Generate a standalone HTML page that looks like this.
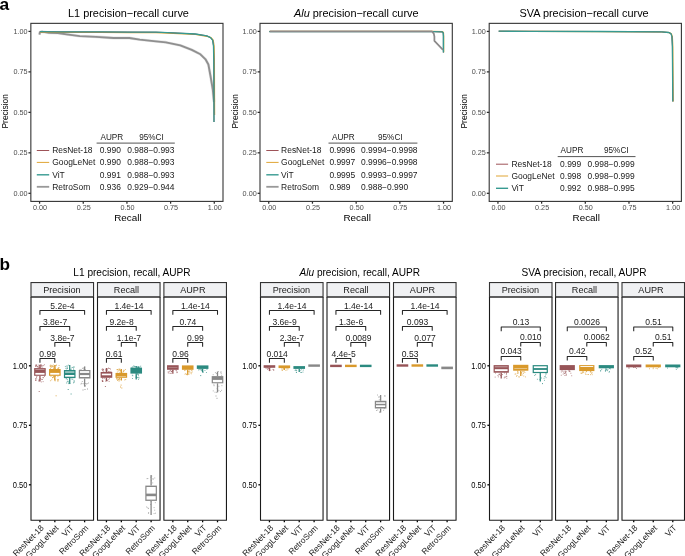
<!DOCTYPE html>
<html><head><meta charset="utf-8"><style>
html,body{margin:0;padding:0;background:#fff;overflow:hidden;width:685px;height:556px;}
svg{display:block;font-family:"Liberation Sans",sans-serif;will-change:transform;filter:blur(0.3px);}
</style></head><body>
<svg width="685" height="556" viewBox="0 0 685 556" font-family="Liberation Sans, sans-serif"><text x="-0.5" y="9.75" font-size="17.4" font-weight="bold" fill="#000">a</text>
<text x="128.45" y="16.70" font-size="10.92" text-anchor="middle" fill="#000" >L1 precision−recall curve</text>
<line x1="28.45" y1="193.31" x2="30.85" y2="193.31" stroke="#2a2a2a" stroke-width="1.25" />
<text x="0" y="0" font-size="7.25" text-anchor="end" fill="#4D4D4D" transform="translate(27.55,195.91) scale(1,1.1)">0.00</text>
<line x1="28.45" y1="152.84" x2="30.85" y2="152.84" stroke="#2a2a2a" stroke-width="1.25" />
<text x="0" y="0" font-size="7.25" text-anchor="end" fill="#4D4D4D" transform="translate(27.55,155.44) scale(1,1.1)">0.25</text>
<line x1="28.45" y1="112.36" x2="30.85" y2="112.36" stroke="#2a2a2a" stroke-width="1.25" />
<text x="0" y="0" font-size="7.25" text-anchor="end" fill="#4D4D4D" transform="translate(27.55,114.96) scale(1,1.1)">0.50</text>
<line x1="28.45" y1="71.88" x2="30.85" y2="71.88" stroke="#2a2a2a" stroke-width="1.25" />
<text x="0" y="0" font-size="7.25" text-anchor="end" fill="#4D4D4D" transform="translate(27.55,74.48) scale(1,1.1)">0.75</text>
<line x1="28.45" y1="31.41" x2="30.85" y2="31.41" stroke="#2a2a2a" stroke-width="1.25" />
<text x="0" y="0" font-size="7.25" text-anchor="end" fill="#4D4D4D" transform="translate(27.55,34.01) scale(1,1.1)">1.00</text>
<line x1="39.58" y1="201.40" x2="39.58" y2="203.70" stroke="#2a2a2a" stroke-width="1.25" />
<text x="0" y="0" font-size="7.25" text-anchor="middle" fill="#4D4D4D" transform="translate(40.08,210.10) scale(1,1.1)">0.00</text>
<line x1="83.25" y1="201.40" x2="83.25" y2="203.70" stroke="#2a2a2a" stroke-width="1.25" />
<text x="0" y="0" font-size="7.25" text-anchor="middle" fill="#4D4D4D" transform="translate(83.75,210.10) scale(1,1.1)">0.25</text>
<line x1="126.93" y1="201.40" x2="126.93" y2="203.70" stroke="#2a2a2a" stroke-width="1.25" />
<text x="0" y="0" font-size="7.25" text-anchor="middle" fill="#4D4D4D" transform="translate(127.43,210.10) scale(1,1.1)">0.50</text>
<line x1="170.60" y1="201.40" x2="170.60" y2="203.70" stroke="#2a2a2a" stroke-width="1.25" />
<text x="0" y="0" font-size="7.25" text-anchor="middle" fill="#4D4D4D" transform="translate(171.10,210.10) scale(1,1.1)">0.75</text>
<line x1="214.27" y1="201.40" x2="214.27" y2="203.70" stroke="#2a2a2a" stroke-width="1.25" />
<text x="0" y="0" font-size="7.25" text-anchor="middle" fill="#4D4D4D" transform="translate(214.77,210.10) scale(1,1.1)">1.00</text>
<text x="127.92" y="220.90" font-size="9.9" text-anchor="middle" fill="#000" >Recall</text>
<text x="0" y="0" font-size="9.9" text-anchor="middle" fill="#000" transform="translate(8.45,111.28) scale(1,0.845) rotate(-90)">Precision</text>
<text x="356.30" y="16.70" font-size="10.92" text-anchor="middle" fill="#000" ><tspan font-style="italic">Alu</tspan> precision−recall curve</text>
<line x1="257.60" y1="193.31" x2="260.00" y2="193.31" stroke="#2a2a2a" stroke-width="1.25" />
<text x="0" y="0" font-size="7.25" text-anchor="end" fill="#4D4D4D" transform="translate(256.70,195.91) scale(1,1.1)">0.00</text>
<line x1="257.60" y1="152.84" x2="260.00" y2="152.84" stroke="#2a2a2a" stroke-width="1.25" />
<text x="0" y="0" font-size="7.25" text-anchor="end" fill="#4D4D4D" transform="translate(256.70,155.44) scale(1,1.1)">0.25</text>
<line x1="257.60" y1="112.36" x2="260.00" y2="112.36" stroke="#2a2a2a" stroke-width="1.25" />
<text x="0" y="0" font-size="7.25" text-anchor="end" fill="#4D4D4D" transform="translate(256.70,114.96) scale(1,1.1)">0.50</text>
<line x1="257.60" y1="71.88" x2="260.00" y2="71.88" stroke="#2a2a2a" stroke-width="1.25" />
<text x="0" y="0" font-size="7.25" text-anchor="end" fill="#4D4D4D" transform="translate(256.70,74.48) scale(1,1.1)">0.75</text>
<line x1="257.60" y1="31.41" x2="260.00" y2="31.41" stroke="#2a2a2a" stroke-width="1.25" />
<text x="0" y="0" font-size="7.25" text-anchor="end" fill="#4D4D4D" transform="translate(256.70,34.01) scale(1,1.1)">1.00</text>
<line x1="268.74" y1="201.40" x2="268.74" y2="203.70" stroke="#2a2a2a" stroke-width="1.25" />
<text x="0" y="0" font-size="7.25" text-anchor="middle" fill="#4D4D4D" transform="translate(269.24,210.10) scale(1,1.1)">0.00</text>
<line x1="312.45" y1="201.40" x2="312.45" y2="203.70" stroke="#2a2a2a" stroke-width="1.25" />
<text x="0" y="0" font-size="7.25" text-anchor="middle" fill="#4D4D4D" transform="translate(312.95,210.10) scale(1,1.1)">0.25</text>
<line x1="356.15" y1="201.40" x2="356.15" y2="203.70" stroke="#2a2a2a" stroke-width="1.25" />
<text x="0" y="0" font-size="7.25" text-anchor="middle" fill="#4D4D4D" transform="translate(356.65,210.10) scale(1,1.1)">0.50</text>
<line x1="399.85" y1="201.40" x2="399.85" y2="203.70" stroke="#2a2a2a" stroke-width="1.25" />
<text x="0" y="0" font-size="7.25" text-anchor="middle" fill="#4D4D4D" transform="translate(400.35,210.10) scale(1,1.1)">0.75</text>
<line x1="443.56" y1="201.40" x2="443.56" y2="203.70" stroke="#2a2a2a" stroke-width="1.25" />
<text x="0" y="0" font-size="7.25" text-anchor="middle" fill="#4D4D4D" transform="translate(444.06,210.10) scale(1,1.1)">1.00</text>
<text x="357.15" y="220.90" font-size="9.9" text-anchor="middle" fill="#000" >Recall</text>
<text x="0" y="0" font-size="9.9" text-anchor="middle" fill="#000" transform="translate(237.60,111.28) scale(1,0.845) rotate(-90)">Precision</text>
<text x="584.05" y="16.70" font-size="10.92" text-anchor="middle" fill="#000" >SVA precision−recall curve</text>
<line x1="486.80" y1="193.31" x2="489.20" y2="193.31" stroke="#2a2a2a" stroke-width="1.25" />
<text x="0" y="0" font-size="7.25" text-anchor="end" fill="#4D4D4D" transform="translate(485.90,195.91) scale(1,1.1)">0.00</text>
<line x1="486.80" y1="152.84" x2="489.20" y2="152.84" stroke="#2a2a2a" stroke-width="1.25" />
<text x="0" y="0" font-size="7.25" text-anchor="end" fill="#4D4D4D" transform="translate(485.90,155.44) scale(1,1.1)">0.25</text>
<line x1="486.80" y1="112.36" x2="489.20" y2="112.36" stroke="#2a2a2a" stroke-width="1.25" />
<text x="0" y="0" font-size="7.25" text-anchor="end" fill="#4D4D4D" transform="translate(485.90,114.96) scale(1,1.1)">0.50</text>
<line x1="486.80" y1="71.88" x2="489.20" y2="71.88" stroke="#2a2a2a" stroke-width="1.25" />
<text x="0" y="0" font-size="7.25" text-anchor="end" fill="#4D4D4D" transform="translate(485.90,74.48) scale(1,1.1)">0.75</text>
<line x1="486.80" y1="31.41" x2="489.20" y2="31.41" stroke="#2a2a2a" stroke-width="1.25" />
<text x="0" y="0" font-size="7.25" text-anchor="end" fill="#4D4D4D" transform="translate(485.90,34.01) scale(1,1.1)">1.00</text>
<line x1="497.94" y1="201.40" x2="497.94" y2="203.70" stroke="#2a2a2a" stroke-width="1.25" />
<text x="0" y="0" font-size="7.25" text-anchor="middle" fill="#4D4D4D" transform="translate(498.44,210.10) scale(1,1.1)">0.00</text>
<line x1="541.62" y1="201.40" x2="541.62" y2="203.70" stroke="#2a2a2a" stroke-width="1.25" />
<text x="0" y="0" font-size="7.25" text-anchor="middle" fill="#4D4D4D" transform="translate(542.12,210.10) scale(1,1.1)">0.25</text>
<line x1="585.30" y1="201.40" x2="585.30" y2="203.70" stroke="#2a2a2a" stroke-width="1.25" />
<text x="0" y="0" font-size="7.25" text-anchor="middle" fill="#4D4D4D" transform="translate(585.80,210.10) scale(1,1.1)">0.50</text>
<line x1="628.98" y1="201.40" x2="628.98" y2="203.70" stroke="#2a2a2a" stroke-width="1.25" />
<text x="0" y="0" font-size="7.25" text-anchor="middle" fill="#4D4D4D" transform="translate(629.48,210.10) scale(1,1.1)">0.75</text>
<line x1="672.66" y1="201.40" x2="672.66" y2="203.70" stroke="#2a2a2a" stroke-width="1.25" />
<text x="0" y="0" font-size="7.25" text-anchor="middle" fill="#4D4D4D" transform="translate(673.16,210.10) scale(1,1.1)">1.00</text>
<text x="586.30" y="220.90" font-size="9.9" text-anchor="middle" fill="#000" >Recall</text>
<text x="0" y="0" font-size="9.9" text-anchor="middle" fill="#000" transform="translate(466.80,111.28) scale(1,0.845) rotate(-90)">Precision</text>
<path d="M39.50,34.60 L39.90,32.20 L42.10,31.70 L49.10,32.80 L57.90,33.00 L66.60,34.30 L79.80,36.10 L96.00,36.80 L113.50,38.00 L129.30,38.00 L139.80,39.60 L156.00,41.40 L165.90,42.30 L180.30,45.40 L191.80,49.90 L200.40,54.30 L205.50,59.30 L208.40,64.50 L210.50,76.00 L212.70,89.00 L214.00,102.00" fill="none" stroke="#E4E4E4" stroke-width="2.9" stroke-linejoin="round" stroke-linecap="butt" />
<path d="M39.50,34.60 L39.90,32.20 L42.10,31.70 L49.10,32.80 L57.90,33.00 L66.60,34.30 L79.80,36.10 L96.00,36.80 L113.50,38.00 L129.30,38.00 L139.80,39.60 L156.00,41.40 L165.90,42.30 L180.30,45.40 L191.80,49.90 L200.40,54.30 L205.50,59.30 L208.40,64.50 L210.50,76.00 L212.70,89.00 L214.00,102.00" fill="none" stroke="#8f8f8f" stroke-width="1.85" stroke-linejoin="round" stroke-linecap="butt" />
<path d="M40.00,32.20 L60.00,32.30 L100.00,32.45 L130.00,32.55 L156.00,32.70 L173.00,33.30 L195.40,34.50 L206.80,36.30 L211.10,37.60 L213.20,40.20 L214.10,45.80 L214.40,60.00 L214.60,115.00" fill="none" stroke="#E0A534" stroke-width="1.2" stroke-linejoin="round" stroke-linecap="butt" />
<path d="M40.00,31.70 L60.00,31.80 L100.00,31.95 L130.00,32.05 L156.00,32.20 L173.00,32.80 L195.40,34.00 L206.80,35.80 L210.50,37.60 L212.60,40.20 L213.50,45.80 L213.80,60.00 L214.00,122.00" fill="none" stroke="#9E5358" stroke-width="1.0" stroke-linejoin="round" stroke-linecap="butt" />
<path d="M40.00,31.70 L60.00,31.80 L100.00,31.95 L130.00,32.05 L156.00,32.20 L173.00,32.80 L195.40,34.00 L206.80,35.80 L210.50,37.60 L212.60,40.20 L213.50,45.80 L213.80,60.00 L214.00,122.00" fill="none" stroke="#379A91" stroke-width="1.35" stroke-linejoin="round" stroke-linecap="butt" />
<path d="M269.30,31.60 L432.10,31.60 L442.30,31.90 L443.20,33.00 L443.40,36.00 L443.40,52.60" fill="none" stroke="#E0A534" stroke-width="1.2" stroke-linejoin="round" stroke-linecap="butt" transform="translate(0.3,-0.3)"/>
<path d="M269.30,31.60 L432.10,31.60 L442.30,31.90 L443.20,33.00 L443.40,36.00 L443.40,52.60" fill="none" stroke="#9E5358" stroke-width="1.0" stroke-linejoin="round" stroke-linecap="butt" />
<path d="M269.30,31.60 L432.10,31.60 L442.30,31.90 L443.20,33.00 L443.40,36.00 L443.40,52.60" fill="none" stroke="#379A91" stroke-width="1.4" stroke-linejoin="round" stroke-linecap="butt" />
<path d="M269.80,31.45 L432.10,31.45 L433.80,33.60 L434.40,36.50 L434.40,40.80 L443.00,49.80" fill="none" stroke="#8c8a8a" stroke-width="1.75" stroke-linejoin="round" stroke-linecap="butt" />
<path d="M498.60,31.20 L530.00,31.30 L600.00,31.50 L661.60,31.90 L668.80,32.50 L670.90,33.60 L671.90,36.50 L672.40,46.60 L672.80,101.50" fill="none" stroke="#E0A534" stroke-width="1.2" stroke-linejoin="round" stroke-linecap="butt" transform="translate(0.45,0.1)"/>
<path d="M498.60,31.20 L530.00,31.30 L600.00,31.50 L661.60,31.90 L668.80,32.50 L670.90,33.60 L671.90,36.50 L672.40,46.60 L672.80,101.50" fill="none" stroke="#9E5358" stroke-width="1.0" stroke-linejoin="round" stroke-linecap="butt" />
<path d="M498.60,31.20 L530.00,31.30 L600.00,31.50 L661.60,31.90 L668.80,32.50 L670.90,33.60 L671.90,36.50 L672.40,46.60 L672.80,101.50" fill="none" stroke="#379A91" stroke-width="1.3" stroke-linejoin="round" stroke-linecap="butt" />
<rect x="30.85" y="23.35" width="192.15" height="178.05" fill="none" stroke="#333333" stroke-width="1.1" />
<rect x="260.00" y="23.35" width="192.30" height="178.05" fill="none" stroke="#333333" stroke-width="1.1" />
<rect x="489.20" y="23.35" width="192.20" height="178.05" fill="none" stroke="#333333" stroke-width="1.1" />
<text x="100.50" y="139.90" font-size="8.2" text-anchor="start" fill="#1a1a1a" >AUPR</text>
<text x="139.20" y="139.90" font-size="8.2" text-anchor="start" fill="#1a1a1a" >95%CI</text>
<line x1="96.60" y1="143.10" x2="174.80" y2="143.10" stroke="#555555" stroke-width="1.0" />
<line x1="36.80" y1="150.50" x2="49.20" y2="150.50" stroke="#9E5358" stroke-width="1.0" />
<text x="52.20" y="153.40" font-size="8.45" text-anchor="start" fill="#1a1a1a" >ResNet-18</text>
<text x="99.80" y="153.40" font-size="8.45" text-anchor="start" fill="#1a1a1a" >0.990</text>
<text x="127.30" y="153.40" font-size="8.45" text-anchor="start" fill="#1a1a1a" >0.988−0.993</text>
<line x1="36.80" y1="162.40" x2="49.20" y2="162.40" stroke="#E0A534" stroke-width="1.0" />
<text x="52.20" y="165.30" font-size="8.45" text-anchor="start" fill="#1a1a1a" >GoogLeNet</text>
<text x="99.80" y="165.30" font-size="8.45" text-anchor="start" fill="#1a1a1a" >0.990</text>
<text x="127.30" y="165.30" font-size="8.45" text-anchor="start" fill="#1a1a1a" >0.988−0.993</text>
<line x1="36.80" y1="174.80" x2="49.20" y2="174.80" stroke="#379A91" stroke-width="1.4" />
<text x="52.20" y="177.70" font-size="8.45" text-anchor="start" fill="#1a1a1a" >ViT</text>
<text x="99.80" y="177.70" font-size="8.45" text-anchor="start" fill="#1a1a1a" >0.991</text>
<text x="127.30" y="177.70" font-size="8.45" text-anchor="start" fill="#1a1a1a" >0.988−0.993</text>
<line x1="36.80" y1="186.80" x2="49.20" y2="186.80" stroke="#999999" stroke-width="1.8" />
<text x="52.20" y="189.70" font-size="8.45" text-anchor="start" fill="#1a1a1a" >RetroSom</text>
<text x="99.80" y="189.70" font-size="8.45" text-anchor="start" fill="#1a1a1a" >0.936</text>
<text x="127.30" y="189.70" font-size="8.45" text-anchor="start" fill="#1a1a1a" >0.929−0.944</text>
<text x="332.00" y="139.90" font-size="8.2" text-anchor="start" fill="#1a1a1a" >AUPR</text>
<text x="378.00" y="139.90" font-size="8.2" text-anchor="start" fill="#1a1a1a" >95%CI</text>
<line x1="328.50" y1="143.10" x2="417.40" y2="143.10" stroke="#555555" stroke-width="1.0" />
<line x1="266.30" y1="150.50" x2="278.60" y2="150.50" stroke="#9E5358" stroke-width="1.0" />
<text x="281.10" y="153.40" font-size="8.45" text-anchor="start" fill="#1a1a1a" >ResNet-18</text>
<text x="329.40" y="153.40" font-size="8.45" text-anchor="start" fill="#1a1a1a" >0.9996</text>
<text x="361.00" y="153.40" font-size="8.45" text-anchor="start" fill="#1a1a1a" >0.9994−0.9998</text>
<line x1="266.30" y1="162.40" x2="278.60" y2="162.40" stroke="#E0A534" stroke-width="1.0" />
<text x="281.10" y="165.30" font-size="8.45" text-anchor="start" fill="#1a1a1a" >GoogLeNet</text>
<text x="329.40" y="165.30" font-size="8.45" text-anchor="start" fill="#1a1a1a" >0.9997</text>
<text x="361.00" y="165.30" font-size="8.45" text-anchor="start" fill="#1a1a1a" >0.9996−0.9998</text>
<line x1="266.30" y1="174.80" x2="278.60" y2="174.80" stroke="#379A91" stroke-width="1.4" />
<text x="281.10" y="177.70" font-size="8.45" text-anchor="start" fill="#1a1a1a" >ViT</text>
<text x="329.40" y="177.70" font-size="8.45" text-anchor="start" fill="#1a1a1a" >0.9995</text>
<text x="361.00" y="177.70" font-size="8.45" text-anchor="start" fill="#1a1a1a" >0.9993−0.9997</text>
<line x1="266.30" y1="186.80" x2="278.60" y2="186.80" stroke="#999999" stroke-width="1.8" />
<text x="281.10" y="189.70" font-size="8.45" text-anchor="start" fill="#1a1a1a" >RetroSom</text>
<text x="329.40" y="189.70" font-size="8.45" text-anchor="start" fill="#1a1a1a" >0.989</text>
<text x="361.00" y="189.70" font-size="8.45" text-anchor="start" fill="#1a1a1a" >0.988−0.990</text>
<text x="560.60" y="153.40" font-size="8.2" text-anchor="start" fill="#1a1a1a" >AUPR</text>
<text x="604.00" y="153.40" font-size="8.2" text-anchor="start" fill="#1a1a1a" >95%CI</text>
<line x1="557.70" y1="156.60" x2="635.50" y2="156.60" stroke="#555555" stroke-width="1.0" />
<line x1="496.00" y1="164.20" x2="508.10" y2="164.20" stroke="#9E5358" stroke-width="1.0" />
<text x="511.40" y="167.10" font-size="8.45" text-anchor="start" fill="#1a1a1a" >ResNet-18</text>
<text x="560.10" y="167.10" font-size="8.45" text-anchor="start" fill="#1a1a1a" >0.999</text>
<text x="587.50" y="167.10" font-size="8.45" text-anchor="start" fill="#1a1a1a" >0.998−0.999</text>
<line x1="496.00" y1="176.00" x2="508.10" y2="176.00" stroke="#E0A534" stroke-width="1.0" />
<text x="511.40" y="178.90" font-size="8.45" text-anchor="start" fill="#1a1a1a" >GoogLeNet</text>
<text x="560.10" y="178.90" font-size="8.45" text-anchor="start" fill="#1a1a1a" >0.998</text>
<text x="587.50" y="178.90" font-size="8.45" text-anchor="start" fill="#1a1a1a" >0.998−0.999</text>
<line x1="496.00" y1="188.30" x2="508.10" y2="188.30" stroke="#379A91" stroke-width="1.4" />
<text x="511.40" y="191.20" font-size="8.45" text-anchor="start" fill="#1a1a1a" >ViT</text>
<text x="560.10" y="191.20" font-size="8.45" text-anchor="start" fill="#1a1a1a" >0.992</text>
<text x="587.50" y="191.20" font-size="8.45" text-anchor="start" fill="#1a1a1a" >0.988−0.995</text>
<text x="-0.4" y="269.5" font-size="17.2" font-weight="bold" fill="#000">b</text>
<text x="132.00" y="275.70" font-size="10.1" text-anchor="middle" fill="#000" >L1 precision, recall, AUPR</text>
<line x1="28.90" y1="484.80" x2="31.00" y2="484.80" stroke="#000" stroke-width="1.3" />
<text x="0" y="0" font-size="7.5" text-anchor="end" fill="#000" transform="translate(27.40,487.60) scale(1,1.1)">0.50</text>
<line x1="28.90" y1="425.30" x2="31.00" y2="425.30" stroke="#000" stroke-width="1.3" />
<text x="0" y="0" font-size="7.5" text-anchor="end" fill="#000" transform="translate(27.40,428.10) scale(1,1.1)">0.75</text>
<line x1="28.90" y1="365.80" x2="31.00" y2="365.80" stroke="#000" stroke-width="1.3" />
<text x="0" y="0" font-size="7.5" text-anchor="end" fill="#000" transform="translate(27.40,368.60) scale(1,1.1)">1.00</text>
<rect x="31.00" y="282.55" width="62.55" height="14.45" fill="#F0F1F3" stroke="#333333" stroke-width="1.1" />
<text x="61.88" y="292.60" font-size="9.1" text-anchor="middle" fill="#1a1a1a" >Precision</text>
<line x1="39.94" y1="520.30" x2="39.94" y2="522.30" stroke="#000" stroke-width="1.3" />
<text x="0" y="0" font-size="8.35" text-anchor="end" fill="#1a1a1a" transform="translate(44.34,528.50) rotate(-45)">ResNet-18</text>
<line x1="54.83" y1="520.30" x2="54.83" y2="522.30" stroke="#000" stroke-width="1.3" />
<text x="0" y="0" font-size="8.35" text-anchor="end" fill="#1a1a1a" transform="translate(59.23,528.50) rotate(-45)">GoogLeNet</text>
<line x1="69.72" y1="520.30" x2="69.72" y2="522.30" stroke="#000" stroke-width="1.3" />
<text x="0" y="0" font-size="8.35" text-anchor="end" fill="#1a1a1a" transform="translate(74.12,528.50) rotate(-45)">ViT</text>
<line x1="84.61" y1="520.30" x2="84.61" y2="522.30" stroke="#000" stroke-width="1.3" />
<text x="0" y="0" font-size="8.35" text-anchor="end" fill="#1a1a1a" transform="translate(89.01,528.50) rotate(-45)">RetroSom</text>
<path d="M39.94,314.70 L39.94,310.50 L84.61,310.50 L84.61,314.70" fill="none" stroke="#262626" stroke-width="1.05" stroke-linejoin="round" stroke-linecap="butt" stroke-linejoin="miter"/>
<text x="62.48" y="308.50" font-size="8.55" text-anchor="middle" fill="#222222" >5.2e-4</text>
<path d="M39.94,330.70 L39.94,326.50 L69.72,326.50 L69.72,330.70" fill="none" stroke="#262626" stroke-width="1.05" stroke-linejoin="round" stroke-linecap="butt" stroke-linejoin="miter"/>
<text x="55.03" y="324.50" font-size="8.55" text-anchor="middle" fill="#222222" >3.8e-7</text>
<path d="M54.83,346.70 L54.83,342.50 L69.72,342.50 L69.72,346.70" fill="none" stroke="#262626" stroke-width="1.05" stroke-linejoin="round" stroke-linecap="butt" stroke-linejoin="miter"/>
<text x="62.47" y="340.50" font-size="8.55" text-anchor="middle" fill="#222222" >3.8e-7</text>
<path d="M39.94,362.70 L39.94,358.50 L54.83,358.50 L54.83,362.70" fill="none" stroke="#262626" stroke-width="1.05" stroke-linejoin="round" stroke-linecap="butt" stroke-linejoin="miter"/>
<text x="47.58" y="356.50" font-size="8.55" text-anchor="middle" fill="#222222" >0.99</text>
<line x1="39.94" y1="375.80" x2="39.94" y2="381.50" stroke="#975457" stroke-width="1.3" />
<line x1="39.94" y1="364.80" x2="39.94" y2="368.10" stroke="#975457" stroke-width="1.3" />
<rect x="37.85" y="364.68" width="0.90" height="0.90" fill="#975457" stroke="none" stroke-width="0" opacity="0.75"/>
<rect x="40.89" y="364.40" width="0.90" height="0.90" fill="#975457" stroke="none" stroke-width="0" opacity="0.75"/>
<rect x="39.82" y="365.43" width="0.90" height="0.90" fill="#975457" stroke="none" stroke-width="0" opacity="0.75"/>
<rect x="35.38" y="365.93" width="0.90" height="0.90" fill="#975457" stroke="none" stroke-width="0" opacity="0.75"/>
<rect x="35.19" y="365.67" width="0.90" height="0.90" fill="#975457" stroke="none" stroke-width="0" opacity="0.75"/>
<rect x="35.49" y="364.47" width="0.90" height="0.90" fill="#975457" stroke="none" stroke-width="0" opacity="0.75"/>
<rect x="38.78" y="367.04" width="0.90" height="0.90" fill="#975457" stroke="none" stroke-width="0" opacity="0.75"/>
<rect x="35.99" y="364.93" width="0.90" height="0.90" fill="#975457" stroke="none" stroke-width="0" opacity="0.75"/>
<rect x="40.67" y="367.47" width="0.90" height="0.90" fill="#975457" stroke="none" stroke-width="0" opacity="0.75"/>
<rect x="40.20" y="365.54" width="0.90" height="0.90" fill="#975457" stroke="none" stroke-width="0" opacity="0.75"/>
<rect x="43.91" y="364.31" width="0.90" height="0.90" fill="#975457" stroke="none" stroke-width="0" opacity="0.75"/>
<rect x="42.82" y="365.16" width="0.90" height="0.90" fill="#975457" stroke="none" stroke-width="0" opacity="0.75"/>
<rect x="36.18" y="364.56" width="0.90" height="0.90" fill="#975457" stroke="none" stroke-width="0" opacity="0.75"/>
<rect x="37.71" y="367.01" width="0.90" height="0.90" fill="#975457" stroke="none" stroke-width="0" opacity="0.75"/>
<rect x="36.52" y="366.19" width="0.90" height="0.90" fill="#975457" stroke="none" stroke-width="0" opacity="0.75"/>
<rect x="40.78" y="365.45" width="0.90" height="0.90" fill="#975457" stroke="none" stroke-width="0" opacity="0.75"/>
<rect x="39.93" y="364.37" width="0.90" height="0.90" fill="#975457" stroke="none" stroke-width="0" opacity="0.75"/>
<rect x="35.39" y="364.87" width="0.90" height="0.90" fill="#975457" stroke="none" stroke-width="0" opacity="0.75"/>
<rect x="41.16" y="365.65" width="0.90" height="0.90" fill="#975457" stroke="none" stroke-width="0" opacity="0.75"/>
<rect x="37.76" y="366.20" width="0.90" height="0.90" fill="#975457" stroke="none" stroke-width="0" opacity="0.75"/>
<rect x="39.05" y="365.20" width="0.90" height="0.90" fill="#975457" stroke="none" stroke-width="0" opacity="0.75"/>
<rect x="42.22" y="366.60" width="0.90" height="0.90" fill="#975457" stroke="none" stroke-width="0" opacity="0.75"/>
<rect x="37.11" y="366.16" width="0.90" height="0.90" fill="#975457" stroke="none" stroke-width="0" opacity="0.75"/>
<rect x="39.72" y="367.21" width="0.90" height="0.90" fill="#975457" stroke="none" stroke-width="0" opacity="0.75"/>
<rect x="41.62" y="365.16" width="0.90" height="0.90" fill="#975457" stroke="none" stroke-width="0" opacity="0.75"/>
<rect x="43.95" y="376.08" width="0.90" height="0.90" fill="#975457" stroke="none" stroke-width="0" opacity="0.75"/>
<rect x="38.72" y="380.04" width="0.90" height="0.90" fill="#975457" stroke="none" stroke-width="0" opacity="0.75"/>
<rect x="36.25" y="378.38" width="0.90" height="0.90" fill="#975457" stroke="none" stroke-width="0" opacity="0.75"/>
<rect x="35.20" y="379.49" width="0.90" height="0.90" fill="#975457" stroke="none" stroke-width="0" opacity="0.75"/>
<rect x="41.94" y="378.90" width="0.90" height="0.90" fill="#975457" stroke="none" stroke-width="0" opacity="0.75"/>
<rect x="42.98" y="377.30" width="0.90" height="0.90" fill="#975457" stroke="none" stroke-width="0" opacity="0.75"/>
<rect x="41.30" y="379.04" width="0.90" height="0.90" fill="#975457" stroke="none" stroke-width="0" opacity="0.75"/>
<rect x="40.23" y="378.18" width="0.90" height="0.90" fill="#975457" stroke="none" stroke-width="0" opacity="0.75"/>
<rect x="42.65" y="381.21" width="0.90" height="0.90" fill="#975457" stroke="none" stroke-width="0" opacity="0.75"/>
<rect x="39.25" y="379.47" width="0.90" height="0.90" fill="#975457" stroke="none" stroke-width="0" opacity="0.75"/>
<rect x="35.40" y="379.70" width="0.90" height="0.90" fill="#975457" stroke="none" stroke-width="0" opacity="0.75"/>
<rect x="40.85" y="381.51" width="0.90" height="0.90" fill="#975457" stroke="none" stroke-width="0" opacity="0.75"/>
<rect x="42.48" y="377.11" width="0.90" height="0.90" fill="#975457" stroke="none" stroke-width="0" opacity="0.75"/>
<rect x="38.42" y="379.50" width="0.90" height="0.90" fill="#975457" stroke="none" stroke-width="0" opacity="0.75"/>
<rect x="35.05" y="378.21" width="0.90" height="0.90" fill="#975457" stroke="none" stroke-width="0" opacity="0.75"/>
<rect x="36.40" y="376.08" width="0.90" height="0.90" fill="#975457" stroke="none" stroke-width="0" opacity="0.75"/>
<rect x="35.39" y="380.11" width="0.90" height="0.90" fill="#975457" stroke="none" stroke-width="0" opacity="0.75"/>
<rect x="36.04" y="376.89" width="0.90" height="0.90" fill="#975457" stroke="none" stroke-width="0" opacity="0.75"/>
<rect x="38.47" y="380.75" width="0.90" height="0.90" fill="#975457" stroke="none" stroke-width="0" opacity="0.75"/>
<rect x="38.70" y="391.00" width="1.00" height="1.00" fill="#975457" stroke="none" stroke-width="0" opacity="0.8"/>
<rect x="34.13" y="368.10" width="11.62" height="7.70" fill="#975457" stroke="none" stroke-width="1.0" />
<rect x="35.33" y="369.10" width="9.22" height="0.80" fill="#ffffff" stroke="none" stroke-width="0" opacity="0.45"/>
<rect x="35.33" y="372.90" width="9.22" height="1.80" fill="#ffffff" stroke="none" stroke-width="0" opacity="1"/>
<line x1="54.83" y1="375.80" x2="54.83" y2="380.50" stroke="#D9992B" stroke-width="1.3" />
<line x1="54.83" y1="365.00" x2="54.83" y2="369.00" stroke="#D9992B" stroke-width="1.3" />
<rect x="50.48" y="366.24" width="0.90" height="0.90" fill="#D9992B" stroke="none" stroke-width="0" opacity="0.75"/>
<rect x="54.84" y="368.06" width="0.90" height="0.90" fill="#D9992B" stroke="none" stroke-width="0" opacity="0.75"/>
<rect x="57.35" y="367.98" width="0.90" height="0.90" fill="#D9992B" stroke="none" stroke-width="0" opacity="0.75"/>
<rect x="52.32" y="366.09" width="0.90" height="0.90" fill="#D9992B" stroke="none" stroke-width="0" opacity="0.75"/>
<rect x="53.07" y="368.06" width="0.90" height="0.90" fill="#D9992B" stroke="none" stroke-width="0" opacity="0.75"/>
<rect x="58.63" y="364.98" width="0.90" height="0.90" fill="#D9992B" stroke="none" stroke-width="0" opacity="0.75"/>
<rect x="51.37" y="365.32" width="0.90" height="0.90" fill="#D9992B" stroke="none" stroke-width="0" opacity="0.75"/>
<rect x="51.90" y="366.39" width="0.90" height="0.90" fill="#D9992B" stroke="none" stroke-width="0" opacity="0.75"/>
<rect x="55.21" y="365.45" width="0.90" height="0.90" fill="#D9992B" stroke="none" stroke-width="0" opacity="0.75"/>
<rect x="49.77" y="366.11" width="0.90" height="0.90" fill="#D9992B" stroke="none" stroke-width="0" opacity="0.75"/>
<rect x="53.16" y="366.73" width="0.90" height="0.90" fill="#D9992B" stroke="none" stroke-width="0" opacity="0.75"/>
<rect x="58.59" y="367.25" width="0.90" height="0.90" fill="#D9992B" stroke="none" stroke-width="0" opacity="0.75"/>
<rect x="54.52" y="366.94" width="0.90" height="0.90" fill="#D9992B" stroke="none" stroke-width="0" opacity="0.75"/>
<rect x="56.02" y="364.58" width="0.90" height="0.90" fill="#D9992B" stroke="none" stroke-width="0" opacity="0.75"/>
<rect x="58.09" y="367.63" width="0.90" height="0.90" fill="#D9992B" stroke="none" stroke-width="0" opacity="0.75"/>
<rect x="57.86" y="367.70" width="0.90" height="0.90" fill="#D9992B" stroke="none" stroke-width="0" opacity="0.75"/>
<rect x="53.38" y="366.03" width="0.90" height="0.90" fill="#D9992B" stroke="none" stroke-width="0" opacity="0.75"/>
<rect x="50.69" y="367.01" width="0.90" height="0.90" fill="#D9992B" stroke="none" stroke-width="0" opacity="0.75"/>
<rect x="50.31" y="364.63" width="0.90" height="0.90" fill="#D9992B" stroke="none" stroke-width="0" opacity="0.75"/>
<rect x="51.67" y="365.03" width="0.90" height="0.90" fill="#D9992B" stroke="none" stroke-width="0" opacity="0.75"/>
<rect x="52.89" y="364.57" width="0.90" height="0.90" fill="#D9992B" stroke="none" stroke-width="0" opacity="0.75"/>
<rect x="49.73" y="364.99" width="0.90" height="0.90" fill="#D9992B" stroke="none" stroke-width="0" opacity="0.75"/>
<rect x="50.67" y="365.88" width="0.90" height="0.90" fill="#D9992B" stroke="none" stroke-width="0" opacity="0.75"/>
<rect x="49.97" y="368.02" width="0.90" height="0.90" fill="#D9992B" stroke="none" stroke-width="0" opacity="0.75"/>
<rect x="55.44" y="364.97" width="0.90" height="0.90" fill="#D9992B" stroke="none" stroke-width="0" opacity="0.75"/>
<rect x="52.08" y="377.16" width="0.90" height="0.90" fill="#D9992B" stroke="none" stroke-width="0" opacity="0.75"/>
<rect x="53.12" y="375.99" width="0.90" height="0.90" fill="#D9992B" stroke="none" stroke-width="0" opacity="0.75"/>
<rect x="57.62" y="380.51" width="0.90" height="0.90" fill="#D9992B" stroke="none" stroke-width="0" opacity="0.75"/>
<rect x="54.06" y="377.87" width="0.90" height="0.90" fill="#D9992B" stroke="none" stroke-width="0" opacity="0.75"/>
<rect x="50.53" y="375.88" width="0.90" height="0.90" fill="#D9992B" stroke="none" stroke-width="0" opacity="0.75"/>
<rect x="52.92" y="376.73" width="0.90" height="0.90" fill="#D9992B" stroke="none" stroke-width="0" opacity="0.75"/>
<rect x="57.43" y="376.19" width="0.90" height="0.90" fill="#D9992B" stroke="none" stroke-width="0" opacity="0.75"/>
<rect x="49.95" y="380.30" width="0.90" height="0.90" fill="#D9992B" stroke="none" stroke-width="0" opacity="0.75"/>
<rect x="54.64" y="376.11" width="0.90" height="0.90" fill="#D9992B" stroke="none" stroke-width="0" opacity="0.75"/>
<rect x="54.78" y="375.49" width="0.90" height="0.90" fill="#D9992B" stroke="none" stroke-width="0" opacity="0.75"/>
<rect x="54.64" y="380.44" width="0.90" height="0.90" fill="#D9992B" stroke="none" stroke-width="0" opacity="0.75"/>
<rect x="57.76" y="378.97" width="0.90" height="0.90" fill="#D9992B" stroke="none" stroke-width="0" opacity="0.75"/>
<rect x="52.16" y="377.26" width="0.90" height="0.90" fill="#D9992B" stroke="none" stroke-width="0" opacity="0.75"/>
<rect x="51.28" y="379.36" width="0.90" height="0.90" fill="#D9992B" stroke="none" stroke-width="0" opacity="0.75"/>
<rect x="54.68" y="379.40" width="0.90" height="0.90" fill="#D9992B" stroke="none" stroke-width="0" opacity="0.75"/>
<rect x="52.80" y="376.51" width="0.90" height="0.90" fill="#D9992B" stroke="none" stroke-width="0" opacity="0.75"/>
<rect x="57.27" y="380.47" width="0.90" height="0.90" fill="#D9992B" stroke="none" stroke-width="0" opacity="0.75"/>
<rect x="57.66" y="379.54" width="0.90" height="0.90" fill="#D9992B" stroke="none" stroke-width="0" opacity="0.75"/>
<rect x="57.34" y="379.20" width="0.90" height="0.90" fill="#D9992B" stroke="none" stroke-width="0" opacity="0.75"/>
<rect x="55.60" y="395.30" width="1.00" height="1.00" fill="#D9992B" stroke="none" stroke-width="0" opacity="0.8"/>
<rect x="49.02" y="369.00" width="11.62" height="6.80" fill="#D9992B" stroke="none" stroke-width="1.0" />
<rect x="50.22" y="372.90" width="9.22" height="1.80" fill="#ffffff" stroke="none" stroke-width="0" opacity="1"/>
<line x1="69.72" y1="378.10" x2="69.72" y2="383.70" stroke="#2B8A80" stroke-width="1.3" />
<line x1="69.72" y1="364.90" x2="69.72" y2="370.00" stroke="#2B8A80" stroke-width="1.3" />
<rect x="66.73" y="367.14" width="0.90" height="0.90" fill="#2B8A80" stroke="none" stroke-width="0" opacity="0.75"/>
<rect x="67.93" y="364.69" width="0.90" height="0.90" fill="#2B8A80" stroke="none" stroke-width="0" opacity="0.75"/>
<rect x="64.88" y="365.95" width="0.90" height="0.90" fill="#2B8A80" stroke="none" stroke-width="0" opacity="0.75"/>
<rect x="67.03" y="368.01" width="0.90" height="0.90" fill="#2B8A80" stroke="none" stroke-width="0" opacity="0.75"/>
<rect x="73.51" y="366.79" width="0.90" height="0.90" fill="#2B8A80" stroke="none" stroke-width="0" opacity="0.75"/>
<rect x="73.33" y="369.49" width="0.90" height="0.90" fill="#2B8A80" stroke="none" stroke-width="0" opacity="0.75"/>
<rect x="73.50" y="366.37" width="0.90" height="0.90" fill="#2B8A80" stroke="none" stroke-width="0" opacity="0.75"/>
<rect x="66.67" y="365.68" width="0.90" height="0.90" fill="#2B8A80" stroke="none" stroke-width="0" opacity="0.75"/>
<rect x="66.45" y="365.57" width="0.90" height="0.90" fill="#2B8A80" stroke="none" stroke-width="0" opacity="0.75"/>
<rect x="70.42" y="369.05" width="0.90" height="0.90" fill="#2B8A80" stroke="none" stroke-width="0" opacity="0.75"/>
<rect x="72.44" y="366.95" width="0.90" height="0.90" fill="#2B8A80" stroke="none" stroke-width="0" opacity="0.75"/>
<rect x="70.69" y="368.55" width="0.90" height="0.90" fill="#2B8A80" stroke="none" stroke-width="0" opacity="0.75"/>
<rect x="65.41" y="367.85" width="0.90" height="0.90" fill="#2B8A80" stroke="none" stroke-width="0" opacity="0.75"/>
<rect x="73.08" y="368.46" width="0.90" height="0.90" fill="#2B8A80" stroke="none" stroke-width="0" opacity="0.75"/>
<rect x="71.60" y="366.94" width="0.90" height="0.90" fill="#2B8A80" stroke="none" stroke-width="0" opacity="0.75"/>
<rect x="66.28" y="368.50" width="0.90" height="0.90" fill="#2B8A80" stroke="none" stroke-width="0" opacity="0.75"/>
<rect x="67.71" y="382.35" width="0.90" height="0.90" fill="#2B8A80" stroke="none" stroke-width="0" opacity="0.75"/>
<rect x="73.65" y="379.93" width="0.90" height="0.90" fill="#2B8A80" stroke="none" stroke-width="0" opacity="0.75"/>
<rect x="68.36" y="383.23" width="0.90" height="0.90" fill="#2B8A80" stroke="none" stroke-width="0" opacity="0.75"/>
<rect x="71.36" y="378.57" width="0.90" height="0.90" fill="#2B8A80" stroke="none" stroke-width="0" opacity="0.75"/>
<rect x="65.81" y="378.46" width="0.90" height="0.90" fill="#2B8A80" stroke="none" stroke-width="0" opacity="0.75"/>
<rect x="73.03" y="382.39" width="0.90" height="0.90" fill="#2B8A80" stroke="none" stroke-width="0" opacity="0.75"/>
<rect x="65.98" y="382.51" width="0.90" height="0.90" fill="#2B8A80" stroke="none" stroke-width="0" opacity="0.75"/>
<rect x="73.73" y="381.49" width="0.90" height="0.90" fill="#2B8A80" stroke="none" stroke-width="0" opacity="0.75"/>
<rect x="67.88" y="380.84" width="0.90" height="0.90" fill="#2B8A80" stroke="none" stroke-width="0" opacity="0.75"/>
<rect x="65.84" y="377.64" width="0.90" height="0.90" fill="#2B8A80" stroke="none" stroke-width="0" opacity="0.75"/>
<rect x="73.65" y="381.45" width="0.90" height="0.90" fill="#2B8A80" stroke="none" stroke-width="0" opacity="0.75"/>
<rect x="69.52" y="383.15" width="0.90" height="0.90" fill="#2B8A80" stroke="none" stroke-width="0" opacity="0.75"/>
<rect x="68.66" y="382.78" width="0.90" height="0.90" fill="#2B8A80" stroke="none" stroke-width="0" opacity="0.75"/>
<rect x="72.30" y="378.82" width="0.90" height="0.90" fill="#2B8A80" stroke="none" stroke-width="0" opacity="0.75"/>
<rect x="66.97" y="379.31" width="0.90" height="0.90" fill="#2B8A80" stroke="none" stroke-width="0" opacity="0.75"/>
<rect x="66.86" y="381.07" width="0.90" height="0.90" fill="#2B8A80" stroke="none" stroke-width="0" opacity="0.75"/>
<rect x="67.70" y="389.00" width="1.00" height="1.00" fill="#2B8A80" stroke="none" stroke-width="0" opacity="0.8"/>
<rect x="70.60" y="393.50" width="1.00" height="1.00" fill="#2B8A80" stroke="none" stroke-width="0" opacity="0.8"/>
<rect x="63.91" y="370.00" width="11.62" height="8.10" fill="#2B8A80" stroke="none" stroke-width="1.0" />
<rect x="65.11" y="371.30" width="9.22" height="1.50" fill="#ffffff" stroke="none" stroke-width="0" opacity="0.6"/>
<rect x="65.11" y="375.00" width="9.22" height="1.70" fill="#ffffff" stroke="none" stroke-width="0" opacity="1"/>
<line x1="84.61" y1="378.50" x2="84.61" y2="386.60" stroke="#888888" stroke-width="1.3" />
<line x1="84.61" y1="366.50" x2="84.61" y2="370.00" stroke="#888888" stroke-width="1.3" />
<rect x="81.93" y="367.81" width="0.90" height="0.90" fill="#888888" stroke="none" stroke-width="0" opacity="0.75"/>
<rect x="80.74" y="369.28" width="0.90" height="0.90" fill="#888888" stroke="none" stroke-width="0" opacity="0.75"/>
<rect x="82.81" y="367.92" width="0.90" height="0.90" fill="#888888" stroke="none" stroke-width="0" opacity="0.75"/>
<rect x="84.94" y="369.26" width="0.90" height="0.90" fill="#888888" stroke="none" stroke-width="0" opacity="0.75"/>
<rect x="83.43" y="369.30" width="0.90" height="0.90" fill="#888888" stroke="none" stroke-width="0" opacity="0.75"/>
<rect x="84.18" y="368.15" width="0.90" height="0.90" fill="#888888" stroke="none" stroke-width="0" opacity="0.75"/>
<rect x="84.38" y="366.61" width="0.90" height="0.90" fill="#888888" stroke="none" stroke-width="0" opacity="0.75"/>
<rect x="83.61" y="367.10" width="0.90" height="0.90" fill="#888888" stroke="none" stroke-width="0" opacity="0.75"/>
<rect x="79.55" y="368.95" width="0.90" height="0.90" fill="#888888" stroke="none" stroke-width="0" opacity="0.75"/>
<rect x="81.12" y="382.81" width="0.90" height="0.90" fill="#888888" stroke="none" stroke-width="0" opacity="0.75"/>
<rect x="86.26" y="383.56" width="0.90" height="0.90" fill="#888888" stroke="none" stroke-width="0" opacity="0.75"/>
<rect x="82.55" y="383.22" width="0.90" height="0.90" fill="#888888" stroke="none" stroke-width="0" opacity="0.75"/>
<rect x="84.68" y="385.61" width="0.90" height="0.90" fill="#888888" stroke="none" stroke-width="0" opacity="0.75"/>
<rect x="80.50" y="383.59" width="0.90" height="0.90" fill="#888888" stroke="none" stroke-width="0" opacity="0.75"/>
<rect x="81.83" y="381.04" width="0.90" height="0.90" fill="#888888" stroke="none" stroke-width="0" opacity="0.75"/>
<rect x="86.69" y="383.12" width="0.90" height="0.90" fill="#888888" stroke="none" stroke-width="0" opacity="0.75"/>
<rect x="84.74" y="385.39" width="0.90" height="0.90" fill="#888888" stroke="none" stroke-width="0" opacity="0.75"/>
<rect x="88.00" y="382.54" width="0.90" height="0.90" fill="#888888" stroke="none" stroke-width="0" opacity="0.75"/>
<rect x="85.21" y="383.10" width="0.90" height="0.90" fill="#888888" stroke="none" stroke-width="0" opacity="0.75"/>
<rect x="84.28" y="384.78" width="0.90" height="0.90" fill="#888888" stroke="none" stroke-width="0" opacity="0.75"/>
<rect x="83.72" y="383.35" width="0.90" height="0.90" fill="#888888" stroke="none" stroke-width="0" opacity="0.75"/>
<rect x="82.50" y="389.50" width="1.00" height="1.00" fill="#888888" stroke="none" stroke-width="0" opacity="0.8"/>
<rect x="84.50" y="389.00" width="1.00" height="1.00" fill="#888888" stroke="none" stroke-width="0" opacity="0.8"/>
<rect x="87.00" y="388.50" width="1.00" height="1.00" fill="#888888" stroke="none" stroke-width="0" opacity="0.8"/>
<rect x="78.81" y="370.00" width="11.62" height="8.50" fill="#888888" stroke="none" stroke-width="1.0" />
<rect x="80.01" y="371.10" width="9.22" height="1.80" fill="#ffffff" stroke="none" stroke-width="0" opacity="1"/>
<rect x="80.01" y="375.10" width="9.22" height="1.90" fill="#ffffff" stroke="none" stroke-width="0" opacity="1"/>
<path d="M31.00,297.00 L31.00,520.30 L93.55,520.30 L93.55,297.00" fill="none" stroke="#1a1a1a" stroke-width="1.1" stroke-linejoin="round" stroke-linecap="butt" stroke-linejoin="miter"/>
<line x1="31.00" y1="297.00" x2="93.55" y2="297.00" stroke="#333333" stroke-width="1.1" />
<rect x="97.50" y="282.55" width="62.55" height="14.45" fill="#F0F1F3" stroke="#333333" stroke-width="1.1" />
<text x="126.48" y="292.60" font-size="9.1" text-anchor="middle" fill="#1a1a1a" >Recall</text>
<line x1="106.44" y1="520.30" x2="106.44" y2="522.30" stroke="#000" stroke-width="1.3" />
<text x="0" y="0" font-size="8.35" text-anchor="end" fill="#1a1a1a" transform="translate(110.84,528.50) rotate(-45)">ResNet-18</text>
<line x1="121.33" y1="520.30" x2="121.33" y2="522.30" stroke="#000" stroke-width="1.3" />
<text x="0" y="0" font-size="8.35" text-anchor="end" fill="#1a1a1a" transform="translate(125.73,528.50) rotate(-45)">GoogLeNet</text>
<line x1="136.22" y1="520.30" x2="136.22" y2="522.30" stroke="#000" stroke-width="1.3" />
<text x="0" y="0" font-size="8.35" text-anchor="end" fill="#1a1a1a" transform="translate(140.62,528.50) rotate(-45)">ViT</text>
<line x1="151.11" y1="520.30" x2="151.11" y2="522.30" stroke="#000" stroke-width="1.3" />
<text x="0" y="0" font-size="8.35" text-anchor="end" fill="#1a1a1a" transform="translate(155.51,528.50) rotate(-45)">RetroSom</text>
<path d="M106.44,314.70 L106.44,310.50 L151.11,310.50 L151.11,314.70" fill="none" stroke="#262626" stroke-width="1.05" stroke-linejoin="round" stroke-linecap="butt" stroke-linejoin="miter"/>
<text x="128.97" y="308.50" font-size="8.55" text-anchor="middle" fill="#222222" >1.4e-14</text>
<path d="M106.44,330.70 L106.44,326.50 L136.22,326.50 L136.22,330.70" fill="none" stroke="#262626" stroke-width="1.05" stroke-linejoin="round" stroke-linecap="butt" stroke-linejoin="miter"/>
<text x="121.53" y="324.50" font-size="8.55" text-anchor="middle" fill="#222222" >9.2e-8</text>
<path d="M121.33,346.70 L121.33,342.50 L136.22,342.50 L136.22,346.70" fill="none" stroke="#262626" stroke-width="1.05" stroke-linejoin="round" stroke-linecap="butt" stroke-linejoin="miter"/>
<text x="128.97" y="340.50" font-size="8.55" text-anchor="middle" fill="#222222" >1.1e-7</text>
<path d="M106.44,362.70 L106.44,358.50 L121.33,358.50 L121.33,362.70" fill="none" stroke="#262626" stroke-width="1.05" stroke-linejoin="round" stroke-linecap="butt" stroke-linejoin="miter"/>
<text x="114.08" y="356.50" font-size="8.55" text-anchor="middle" fill="#222222" >0.61</text>
<line x1="106.44" y1="377.80" x2="106.44" y2="381.30" stroke="#975457" stroke-width="1.3" />
<line x1="106.44" y1="368.00" x2="106.44" y2="372.00" stroke="#975457" stroke-width="1.3" />
<rect x="105.78" y="371.32" width="0.90" height="0.90" fill="#975457" stroke="none" stroke-width="0" opacity="0.75"/>
<rect x="107.84" y="371.06" width="0.90" height="0.90" fill="#975457" stroke="none" stroke-width="0" opacity="0.75"/>
<rect x="110.09" y="368.59" width="0.90" height="0.90" fill="#975457" stroke="none" stroke-width="0" opacity="0.75"/>
<rect x="106.54" y="371.32" width="0.90" height="0.90" fill="#975457" stroke="none" stroke-width="0" opacity="0.75"/>
<rect x="109.15" y="368.10" width="0.90" height="0.90" fill="#975457" stroke="none" stroke-width="0" opacity="0.75"/>
<rect x="102.47" y="369.32" width="0.90" height="0.90" fill="#975457" stroke="none" stroke-width="0" opacity="0.75"/>
<rect x="102.01" y="368.51" width="0.90" height="0.90" fill="#975457" stroke="none" stroke-width="0" opacity="0.75"/>
<rect x="102.02" y="370.23" width="0.90" height="0.90" fill="#975457" stroke="none" stroke-width="0" opacity="0.75"/>
<rect x="108.62" y="371.14" width="0.90" height="0.90" fill="#975457" stroke="none" stroke-width="0" opacity="0.75"/>
<rect x="102.77" y="370.41" width="0.90" height="0.90" fill="#975457" stroke="none" stroke-width="0" opacity="0.75"/>
<rect x="107.48" y="368.12" width="0.90" height="0.90" fill="#975457" stroke="none" stroke-width="0" opacity="0.75"/>
<rect x="109.54" y="371.42" width="0.90" height="0.90" fill="#975457" stroke="none" stroke-width="0" opacity="0.75"/>
<rect x="103.38" y="371.36" width="0.90" height="0.90" fill="#975457" stroke="none" stroke-width="0" opacity="0.75"/>
<rect x="105.04" y="369.50" width="0.90" height="0.90" fill="#975457" stroke="none" stroke-width="0" opacity="0.75"/>
<rect x="110.54" y="370.88" width="0.90" height="0.90" fill="#975457" stroke="none" stroke-width="0" opacity="0.75"/>
<rect x="102.84" y="369.28" width="0.90" height="0.90" fill="#975457" stroke="none" stroke-width="0" opacity="0.75"/>
<rect x="106.13" y="368.91" width="0.90" height="0.90" fill="#975457" stroke="none" stroke-width="0" opacity="0.75"/>
<rect x="103.16" y="368.82" width="0.90" height="0.90" fill="#975457" stroke="none" stroke-width="0" opacity="0.75"/>
<rect x="108.05" y="367.63" width="0.90" height="0.90" fill="#975457" stroke="none" stroke-width="0" opacity="0.75"/>
<rect x="106.49" y="369.31" width="0.90" height="0.90" fill="#975457" stroke="none" stroke-width="0" opacity="0.75"/>
<rect x="101.51" y="368.88" width="0.90" height="0.90" fill="#975457" stroke="none" stroke-width="0" opacity="0.75"/>
<rect x="107.14" y="369.60" width="0.90" height="0.90" fill="#975457" stroke="none" stroke-width="0" opacity="0.75"/>
<rect x="101.94" y="380.99" width="0.90" height="0.90" fill="#975457" stroke="none" stroke-width="0" opacity="0.75"/>
<rect x="108.67" y="380.95" width="0.90" height="0.90" fill="#975457" stroke="none" stroke-width="0" opacity="0.75"/>
<rect x="102.31" y="378.33" width="0.90" height="0.90" fill="#975457" stroke="none" stroke-width="0" opacity="0.75"/>
<rect x="101.71" y="380.23" width="0.90" height="0.90" fill="#975457" stroke="none" stroke-width="0" opacity="0.75"/>
<rect x="103.85" y="377.83" width="0.90" height="0.90" fill="#975457" stroke="none" stroke-width="0" opacity="0.75"/>
<rect x="105.26" y="380.72" width="0.90" height="0.90" fill="#975457" stroke="none" stroke-width="0" opacity="0.75"/>
<rect x="108.95" y="378.31" width="0.90" height="0.90" fill="#975457" stroke="none" stroke-width="0" opacity="0.75"/>
<rect x="102.73" y="380.75" width="0.90" height="0.90" fill="#975457" stroke="none" stroke-width="0" opacity="0.75"/>
<rect x="106.64" y="379.94" width="0.90" height="0.90" fill="#975457" stroke="none" stroke-width="0" opacity="0.75"/>
<rect x="102.17" y="377.56" width="0.90" height="0.90" fill="#975457" stroke="none" stroke-width="0" opacity="0.75"/>
<rect x="107.73" y="378.92" width="0.90" height="0.90" fill="#975457" stroke="none" stroke-width="0" opacity="0.75"/>
<rect x="102.01" y="380.82" width="0.90" height="0.90" fill="#975457" stroke="none" stroke-width="0" opacity="0.75"/>
<rect x="107.24" y="380.32" width="0.90" height="0.90" fill="#975457" stroke="none" stroke-width="0" opacity="0.75"/>
<rect x="102.12" y="380.52" width="0.90" height="0.90" fill="#975457" stroke="none" stroke-width="0" opacity="0.75"/>
<rect x="101.96" y="380.54" width="0.90" height="0.90" fill="#975457" stroke="none" stroke-width="0" opacity="0.75"/>
<rect x="105.56" y="378.60" width="0.90" height="0.90" fill="#975457" stroke="none" stroke-width="0" opacity="0.75"/>
<rect x="104.90" y="386.00" width="1.00" height="1.00" fill="#975457" stroke="none" stroke-width="0" opacity="0.8"/>
<rect x="100.63" y="372.00" width="11.62" height="5.80" fill="#975457" stroke="none" stroke-width="1.0" />
<rect x="101.83" y="373.60" width="9.22" height="1.70" fill="#ffffff" stroke="none" stroke-width="0" opacity="1"/>
<line x1="121.33" y1="377.80" x2="121.33" y2="380.60" stroke="#D9992B" stroke-width="1.3" />
<line x1="121.33" y1="369.00" x2="121.33" y2="372.90" stroke="#D9992B" stroke-width="1.3" />
<rect x="121.37" y="372.26" width="0.90" height="0.90" fill="#D9992B" stroke="none" stroke-width="0" opacity="0.75"/>
<rect x="118.72" y="369.07" width="0.90" height="0.90" fill="#D9992B" stroke="none" stroke-width="0" opacity="0.75"/>
<rect x="121.13" y="369.50" width="0.90" height="0.90" fill="#D9992B" stroke="none" stroke-width="0" opacity="0.75"/>
<rect x="117.25" y="369.20" width="0.90" height="0.90" fill="#D9992B" stroke="none" stroke-width="0" opacity="0.75"/>
<rect x="116.70" y="369.36" width="0.90" height="0.90" fill="#D9992B" stroke="none" stroke-width="0" opacity="0.75"/>
<rect x="119.13" y="369.77" width="0.90" height="0.90" fill="#D9992B" stroke="none" stroke-width="0" opacity="0.75"/>
<rect x="123.29" y="369.71" width="0.90" height="0.90" fill="#D9992B" stroke="none" stroke-width="0" opacity="0.75"/>
<rect x="120.88" y="369.26" width="0.90" height="0.90" fill="#D9992B" stroke="none" stroke-width="0" opacity="0.75"/>
<rect x="119.46" y="368.62" width="0.90" height="0.90" fill="#D9992B" stroke="none" stroke-width="0" opacity="0.75"/>
<rect x="118.56" y="368.61" width="0.90" height="0.90" fill="#D9992B" stroke="none" stroke-width="0" opacity="0.75"/>
<rect x="123.04" y="370.75" width="0.90" height="0.90" fill="#D9992B" stroke="none" stroke-width="0" opacity="0.75"/>
<rect x="117.99" y="370.45" width="0.90" height="0.90" fill="#D9992B" stroke="none" stroke-width="0" opacity="0.75"/>
<rect x="124.92" y="368.98" width="0.90" height="0.90" fill="#D9992B" stroke="none" stroke-width="0" opacity="0.75"/>
<rect x="123.84" y="370.28" width="0.90" height="0.90" fill="#D9992B" stroke="none" stroke-width="0" opacity="0.75"/>
<rect x="120.83" y="371.89" width="0.90" height="0.90" fill="#D9992B" stroke="none" stroke-width="0" opacity="0.75"/>
<rect x="119.89" y="370.58" width="0.90" height="0.90" fill="#D9992B" stroke="none" stroke-width="0" opacity="0.75"/>
<rect x="122.62" y="372.48" width="0.90" height="0.90" fill="#D9992B" stroke="none" stroke-width="0" opacity="0.75"/>
<rect x="119.42" y="371.88" width="0.90" height="0.90" fill="#D9992B" stroke="none" stroke-width="0" opacity="0.75"/>
<rect x="122.80" y="371.09" width="0.90" height="0.90" fill="#D9992B" stroke="none" stroke-width="0" opacity="0.75"/>
<rect x="119.99" y="369.94" width="0.90" height="0.90" fill="#D9992B" stroke="none" stroke-width="0" opacity="0.75"/>
<rect x="116.74" y="369.07" width="0.90" height="0.90" fill="#D9992B" stroke="none" stroke-width="0" opacity="0.75"/>
<rect x="116.89" y="371.51" width="0.90" height="0.90" fill="#D9992B" stroke="none" stroke-width="0" opacity="0.75"/>
<rect x="118.61" y="377.87" width="0.90" height="0.90" fill="#D9992B" stroke="none" stroke-width="0" opacity="0.75"/>
<rect x="117.02" y="380.04" width="0.90" height="0.90" fill="#D9992B" stroke="none" stroke-width="0" opacity="0.75"/>
<rect x="124.32" y="379.50" width="0.90" height="0.90" fill="#D9992B" stroke="none" stroke-width="0" opacity="0.75"/>
<rect x="118.85" y="378.13" width="0.90" height="0.90" fill="#D9992B" stroke="none" stroke-width="0" opacity="0.75"/>
<rect x="118.96" y="378.82" width="0.90" height="0.90" fill="#D9992B" stroke="none" stroke-width="0" opacity="0.75"/>
<rect x="117.70" y="378.78" width="0.90" height="0.90" fill="#D9992B" stroke="none" stroke-width="0" opacity="0.75"/>
<rect x="118.68" y="380.43" width="0.90" height="0.90" fill="#D9992B" stroke="none" stroke-width="0" opacity="0.75"/>
<rect x="125.27" y="379.10" width="0.90" height="0.90" fill="#D9992B" stroke="none" stroke-width="0" opacity="0.75"/>
<rect x="118.50" y="380.44" width="0.90" height="0.90" fill="#D9992B" stroke="none" stroke-width="0" opacity="0.75"/>
<rect x="119.11" y="378.49" width="0.90" height="0.90" fill="#D9992B" stroke="none" stroke-width="0" opacity="0.75"/>
<rect x="116.24" y="378.57" width="0.90" height="0.90" fill="#D9992B" stroke="none" stroke-width="0" opacity="0.75"/>
<rect x="120.64" y="378.96" width="0.90" height="0.90" fill="#D9992B" stroke="none" stroke-width="0" opacity="0.75"/>
<rect x="118.10" y="378.97" width="0.90" height="0.90" fill="#D9992B" stroke="none" stroke-width="0" opacity="0.75"/>
<rect x="116.28" y="378.20" width="0.90" height="0.90" fill="#D9992B" stroke="none" stroke-width="0" opacity="0.75"/>
<rect x="117.07" y="378.63" width="0.90" height="0.90" fill="#D9992B" stroke="none" stroke-width="0" opacity="0.75"/>
<rect x="116.62" y="377.42" width="0.90" height="0.90" fill="#D9992B" stroke="none" stroke-width="0" opacity="0.75"/>
<rect x="120.60" y="384.60" width="1.00" height="1.00" fill="#D9992B" stroke="none" stroke-width="0" opacity="0.8"/>
<rect x="121.30" y="387.50" width="1.00" height="1.00" fill="#D9992B" stroke="none" stroke-width="0" opacity="0.8"/>
<rect x="120.00" y="386.50" width="1.00" height="1.00" fill="#D9992B" stroke="none" stroke-width="0" opacity="0.8"/>
<rect x="115.52" y="372.90" width="11.62" height="4.90" fill="#D9992B" stroke="none" stroke-width="1.0" />
<rect x="116.72" y="376.00" width="9.22" height="0.80" fill="#ffffff" stroke="none" stroke-width="0" opacity="0.5"/>
<line x1="136.22" y1="373.60" x2="136.22" y2="379.50" stroke="#2B8A80" stroke-width="1.3" />
<line x1="136.22" y1="365.90" x2="136.22" y2="367.60" stroke="#2B8A80" stroke-width="1.3" />
<rect x="133.95" y="365.85" width="0.90" height="0.90" fill="#2B8A80" stroke="none" stroke-width="0" opacity="0.75"/>
<rect x="136.57" y="366.35" width="0.90" height="0.90" fill="#2B8A80" stroke="none" stroke-width="0" opacity="0.75"/>
<rect x="138.10" y="366.57" width="0.90" height="0.90" fill="#2B8A80" stroke="none" stroke-width="0" opacity="0.75"/>
<rect x="137.78" y="366.94" width="0.90" height="0.90" fill="#2B8A80" stroke="none" stroke-width="0" opacity="0.75"/>
<rect x="134.74" y="366.00" width="0.90" height="0.90" fill="#2B8A80" stroke="none" stroke-width="0" opacity="0.75"/>
<rect x="140.28" y="365.70" width="0.90" height="0.90" fill="#2B8A80" stroke="none" stroke-width="0" opacity="0.75"/>
<rect x="137.85" y="366.54" width="0.90" height="0.90" fill="#2B8A80" stroke="none" stroke-width="0" opacity="0.75"/>
<rect x="131.53" y="366.87" width="0.90" height="0.90" fill="#2B8A80" stroke="none" stroke-width="0" opacity="0.75"/>
<rect x="139.41" y="366.52" width="0.90" height="0.90" fill="#2B8A80" stroke="none" stroke-width="0" opacity="0.75"/>
<rect x="137.94" y="366.83" width="0.90" height="0.90" fill="#2B8A80" stroke="none" stroke-width="0" opacity="0.75"/>
<rect x="132.42" y="366.34" width="0.90" height="0.90" fill="#2B8A80" stroke="none" stroke-width="0" opacity="0.75"/>
<rect x="135.81" y="366.87" width="0.90" height="0.90" fill="#2B8A80" stroke="none" stroke-width="0" opacity="0.75"/>
<rect x="138.60" y="366.85" width="0.90" height="0.90" fill="#2B8A80" stroke="none" stroke-width="0" opacity="0.75"/>
<rect x="136.55" y="366.97" width="0.90" height="0.90" fill="#2B8A80" stroke="none" stroke-width="0" opacity="0.75"/>
<rect x="137.47" y="366.63" width="0.90" height="0.90" fill="#2B8A80" stroke="none" stroke-width="0" opacity="0.75"/>
<rect x="133.26" y="365.50" width="0.90" height="0.90" fill="#2B8A80" stroke="none" stroke-width="0" opacity="0.75"/>
<rect x="132.36" y="375.28" width="0.90" height="0.90" fill="#2B8A80" stroke="none" stroke-width="0" opacity="0.75"/>
<rect x="132.10" y="378.08" width="0.90" height="0.90" fill="#2B8A80" stroke="none" stroke-width="0" opacity="0.75"/>
<rect x="136.32" y="376.85" width="0.90" height="0.90" fill="#2B8A80" stroke="none" stroke-width="0" opacity="0.75"/>
<rect x="136.94" y="377.17" width="0.90" height="0.90" fill="#2B8A80" stroke="none" stroke-width="0" opacity="0.75"/>
<rect x="135.67" y="373.17" width="0.90" height="0.90" fill="#2B8A80" stroke="none" stroke-width="0" opacity="0.75"/>
<rect x="138.54" y="377.56" width="0.90" height="0.90" fill="#2B8A80" stroke="none" stroke-width="0" opacity="0.75"/>
<rect x="135.80" y="376.31" width="0.90" height="0.90" fill="#2B8A80" stroke="none" stroke-width="0" opacity="0.75"/>
<rect x="137.25" y="373.54" width="0.90" height="0.90" fill="#2B8A80" stroke="none" stroke-width="0" opacity="0.75"/>
<rect x="137.97" y="374.64" width="0.90" height="0.90" fill="#2B8A80" stroke="none" stroke-width="0" opacity="0.75"/>
<rect x="131.82" y="374.72" width="0.90" height="0.90" fill="#2B8A80" stroke="none" stroke-width="0" opacity="0.75"/>
<rect x="137.90" y="374.36" width="0.90" height="0.90" fill="#2B8A80" stroke="none" stroke-width="0" opacity="0.75"/>
<rect x="138.00" y="378.91" width="0.90" height="0.90" fill="#2B8A80" stroke="none" stroke-width="0" opacity="0.75"/>
<rect x="135.72" y="375.41" width="0.90" height="0.90" fill="#2B8A80" stroke="none" stroke-width="0" opacity="0.75"/>
<rect x="135.58" y="377.18" width="0.90" height="0.90" fill="#2B8A80" stroke="none" stroke-width="0" opacity="0.75"/>
<rect x="138.25" y="376.79" width="0.90" height="0.90" fill="#2B8A80" stroke="none" stroke-width="0" opacity="0.75"/>
<rect x="137.10" y="373.61" width="0.90" height="0.90" fill="#2B8A80" stroke="none" stroke-width="0" opacity="0.75"/>
<rect x="130.41" y="367.60" width="11.62" height="6.00" fill="#2B8A80" stroke="none" stroke-width="1.0" />
<line x1="151.11" y1="500.90" x2="151.11" y2="515.10" stroke="#888888" stroke-width="1.3" />
<line x1="151.11" y1="475.00" x2="151.11" y2="485.60" stroke="#888888" stroke-width="1.3" />
<rect x="147.39" y="478.09" width="0.90" height="0.90" fill="#888888" stroke="none" stroke-width="0" opacity="0.75"/>
<rect x="152.92" y="478.59" width="0.90" height="0.90" fill="#888888" stroke="none" stroke-width="0" opacity="0.75"/>
<rect x="151.29" y="475.67" width="0.90" height="0.90" fill="#888888" stroke="none" stroke-width="0" opacity="0.75"/>
<rect x="146.58" y="478.24" width="0.90" height="0.90" fill="#888888" stroke="none" stroke-width="0" opacity="0.75"/>
<rect x="152.26" y="482.47" width="0.90" height="0.90" fill="#888888" stroke="none" stroke-width="0" opacity="0.75"/>
<rect x="152.30" y="478.46" width="0.90" height="0.90" fill="#888888" stroke="none" stroke-width="0" opacity="0.75"/>
<rect x="150.82" y="480.20" width="0.90" height="0.90" fill="#888888" stroke="none" stroke-width="0" opacity="0.75"/>
<rect x="150.35" y="476.74" width="0.90" height="0.90" fill="#888888" stroke="none" stroke-width="0" opacity="0.75"/>
<rect x="154.32" y="477.54" width="0.90" height="0.90" fill="#888888" stroke="none" stroke-width="0" opacity="0.75"/>
<rect x="155.11" y="512.72" width="0.90" height="0.90" fill="#888888" stroke="none" stroke-width="0" opacity="0.75"/>
<rect x="146.18" y="506.52" width="0.90" height="0.90" fill="#888888" stroke="none" stroke-width="0" opacity="0.75"/>
<rect x="153.64" y="513.14" width="0.90" height="0.90" fill="#888888" stroke="none" stroke-width="0" opacity="0.75"/>
<rect x="150.19" y="504.04" width="0.90" height="0.90" fill="#888888" stroke="none" stroke-width="0" opacity="0.75"/>
<rect x="147.97" y="512.84" width="0.90" height="0.90" fill="#888888" stroke="none" stroke-width="0" opacity="0.75"/>
<rect x="147.98" y="508.11" width="0.90" height="0.90" fill="#888888" stroke="none" stroke-width="0" opacity="0.75"/>
<rect x="147.33" y="507.36" width="0.90" height="0.90" fill="#888888" stroke="none" stroke-width="0" opacity="0.75"/>
<rect x="154.87" y="502.27" width="0.90" height="0.90" fill="#888888" stroke="none" stroke-width="0" opacity="0.75"/>
<rect x="153.64" y="507.16" width="0.90" height="0.90" fill="#888888" stroke="none" stroke-width="0" opacity="0.75"/>
<rect x="154.26" y="509.69" width="0.90" height="0.90" fill="#888888" stroke="none" stroke-width="0" opacity="0.75"/>
<rect x="148.17" y="512.22" width="0.90" height="0.90" fill="#888888" stroke="none" stroke-width="0" opacity="0.75"/>
<rect x="150.54" y="500.87" width="0.90" height="0.90" fill="#888888" stroke="none" stroke-width="0" opacity="0.75"/>
<rect x="145.31" y="485.60" width="11.62" height="15.30" fill="#888888" stroke="none" stroke-width="1.0" />
<rect x="146.51" y="487.00" width="9.22" height="6.60" fill="#ffffff" stroke="none" stroke-width="0" opacity="1"/>
<rect x="146.51" y="496.20" width="9.22" height="3.40" fill="#ffffff" stroke="none" stroke-width="0" opacity="1"/>
<path d="M97.50,297.00 L97.50,520.30 L160.05,520.30 L160.05,297.00" fill="none" stroke="#1a1a1a" stroke-width="1.1" stroke-linejoin="round" stroke-linecap="butt" stroke-linejoin="miter"/>
<line x1="97.50" y1="297.00" x2="160.05" y2="297.00" stroke="#333333" stroke-width="1.1" />
<rect x="163.90" y="282.55" width="62.55" height="14.45" fill="#F0F1F3" stroke="#333333" stroke-width="1.1" />
<text x="192.88" y="292.60" font-size="9.1" text-anchor="middle" fill="#1a1a1a" >AUPR</text>
<line x1="172.84" y1="520.30" x2="172.84" y2="522.30" stroke="#000" stroke-width="1.3" />
<text x="0" y="0" font-size="8.35" text-anchor="end" fill="#1a1a1a" transform="translate(177.24,528.50) rotate(-45)">ResNet-18</text>
<line x1="187.73" y1="520.30" x2="187.73" y2="522.30" stroke="#000" stroke-width="1.3" />
<text x="0" y="0" font-size="8.35" text-anchor="end" fill="#1a1a1a" transform="translate(192.13,528.50) rotate(-45)">GoogLeNet</text>
<line x1="202.62" y1="520.30" x2="202.62" y2="522.30" stroke="#000" stroke-width="1.3" />
<text x="0" y="0" font-size="8.35" text-anchor="end" fill="#1a1a1a" transform="translate(207.02,528.50) rotate(-45)">ViT</text>
<line x1="217.51" y1="520.30" x2="217.51" y2="522.30" stroke="#000" stroke-width="1.3" />
<text x="0" y="0" font-size="8.35" text-anchor="end" fill="#1a1a1a" transform="translate(221.91,528.50) rotate(-45)">RetroSom</text>
<path d="M172.84,314.70 L172.84,310.50 L217.51,310.50 L217.51,314.70" fill="none" stroke="#262626" stroke-width="1.05" stroke-linejoin="round" stroke-linecap="butt" stroke-linejoin="miter"/>
<text x="195.38" y="308.50" font-size="8.55" text-anchor="middle" fill="#222222" >1.4e-14</text>
<path d="M172.84,330.70 L172.84,326.50 L202.62,326.50 L202.62,330.70" fill="none" stroke="#262626" stroke-width="1.05" stroke-linejoin="round" stroke-linecap="butt" stroke-linejoin="miter"/>
<text x="187.93" y="324.50" font-size="8.55" text-anchor="middle" fill="#222222" >0.74</text>
<path d="M187.73,346.70 L187.73,342.50 L202.62,342.50 L202.62,346.70" fill="none" stroke="#262626" stroke-width="1.05" stroke-linejoin="round" stroke-linecap="butt" stroke-linejoin="miter"/>
<text x="195.38" y="340.50" font-size="8.55" text-anchor="middle" fill="#222222" >0.99</text>
<path d="M172.84,362.70 L172.84,358.50 L187.73,358.50 L187.73,362.70" fill="none" stroke="#262626" stroke-width="1.05" stroke-linejoin="round" stroke-linecap="butt" stroke-linejoin="miter"/>
<text x="180.48" y="356.50" font-size="8.55" text-anchor="middle" fill="#222222" >0.96</text>
<line x1="172.84" y1="369.80" x2="172.84" y2="373.80" stroke="#975457" stroke-width="1.3" />
<rect x="167.77" y="371.32" width="0.90" height="0.90" fill="#975457" stroke="none" stroke-width="0" opacity="0.75"/>
<rect x="171.93" y="370.56" width="0.90" height="0.90" fill="#975457" stroke="none" stroke-width="0" opacity="0.75"/>
<rect x="169.05" y="370.73" width="0.90" height="0.90" fill="#975457" stroke="none" stroke-width="0" opacity="0.75"/>
<rect x="170.68" y="372.71" width="0.90" height="0.90" fill="#975457" stroke="none" stroke-width="0" opacity="0.75"/>
<rect x="167.76" y="372.35" width="0.90" height="0.90" fill="#975457" stroke="none" stroke-width="0" opacity="0.75"/>
<rect x="175.54" y="369.83" width="0.90" height="0.90" fill="#975457" stroke="none" stroke-width="0" opacity="0.75"/>
<rect x="176.35" y="372.20" width="0.90" height="0.90" fill="#975457" stroke="none" stroke-width="0" opacity="0.75"/>
<rect x="176.12" y="370.51" width="0.90" height="0.90" fill="#975457" stroke="none" stroke-width="0" opacity="0.75"/>
<rect x="171.20" y="370.92" width="0.90" height="0.90" fill="#975457" stroke="none" stroke-width="0" opacity="0.75"/>
<rect x="177.02" y="371.71" width="0.90" height="0.90" fill="#975457" stroke="none" stroke-width="0" opacity="0.75"/>
<rect x="171.09" y="371.06" width="0.90" height="0.90" fill="#975457" stroke="none" stroke-width="0" opacity="0.75"/>
<rect x="170.30" y="369.54" width="0.90" height="0.90" fill="#975457" stroke="none" stroke-width="0" opacity="0.75"/>
<rect x="168.68" y="372.69" width="0.90" height="0.90" fill="#975457" stroke="none" stroke-width="0" opacity="0.75"/>
<rect x="170.39" y="373.09" width="0.90" height="0.90" fill="#975457" stroke="none" stroke-width="0" opacity="0.75"/>
<rect x="170.06" y="370.41" width="0.90" height="0.90" fill="#975457" stroke="none" stroke-width="0" opacity="0.75"/>
<rect x="172.49" y="370.11" width="0.90" height="0.90" fill="#975457" stroke="none" stroke-width="0" opacity="0.75"/>
<rect x="167.03" y="365.20" width="11.62" height="4.60" fill="#975457" stroke="none" stroke-width="1.0" />
<rect x="168.23" y="367.30" width="9.22" height="0.60" fill="#ffffff" stroke="none" stroke-width="0" opacity="0.4"/>
<line x1="187.73" y1="369.80" x2="187.73" y2="374.70" stroke="#D9992B" stroke-width="1.3" />
<rect x="186.10" y="374.04" width="0.90" height="0.90" fill="#D9992B" stroke="none" stroke-width="0" opacity="0.75"/>
<rect x="190.85" y="373.33" width="0.90" height="0.90" fill="#D9992B" stroke="none" stroke-width="0" opacity="0.75"/>
<rect x="188.50" y="373.83" width="0.90" height="0.90" fill="#D9992B" stroke="none" stroke-width="0" opacity="0.75"/>
<rect x="191.37" y="372.04" width="0.90" height="0.90" fill="#D9992B" stroke="none" stroke-width="0" opacity="0.75"/>
<rect x="189.32" y="369.59" width="0.90" height="0.90" fill="#D9992B" stroke="none" stroke-width="0" opacity="0.75"/>
<rect x="189.44" y="371.56" width="0.90" height="0.90" fill="#D9992B" stroke="none" stroke-width="0" opacity="0.75"/>
<rect x="189.63" y="372.51" width="0.90" height="0.90" fill="#D9992B" stroke="none" stroke-width="0" opacity="0.75"/>
<rect x="185.29" y="369.59" width="0.90" height="0.90" fill="#D9992B" stroke="none" stroke-width="0" opacity="0.75"/>
<rect x="191.24" y="369.97" width="0.90" height="0.90" fill="#D9992B" stroke="none" stroke-width="0" opacity="0.75"/>
<rect x="187.02" y="371.03" width="0.90" height="0.90" fill="#D9992B" stroke="none" stroke-width="0" opacity="0.75"/>
<rect x="185.40" y="372.97" width="0.90" height="0.90" fill="#D9992B" stroke="none" stroke-width="0" opacity="0.75"/>
<rect x="191.70" y="370.62" width="0.90" height="0.90" fill="#D9992B" stroke="none" stroke-width="0" opacity="0.75"/>
<rect x="188.73" y="370.82" width="0.90" height="0.90" fill="#D9992B" stroke="none" stroke-width="0" opacity="0.75"/>
<rect x="187.81" y="371.28" width="0.90" height="0.90" fill="#D9992B" stroke="none" stroke-width="0" opacity="0.75"/>
<rect x="184.19" y="370.14" width="0.90" height="0.90" fill="#D9992B" stroke="none" stroke-width="0" opacity="0.75"/>
<rect x="184.56" y="373.79" width="0.90" height="0.90" fill="#D9992B" stroke="none" stroke-width="0" opacity="0.75"/>
<rect x="186.80" y="374.30" width="1.00" height="1.00" fill="#D9992B" stroke="none" stroke-width="0" opacity="0.8"/>
<rect x="181.92" y="365.40" width="11.62" height="4.40" fill="#D9992B" stroke="none" stroke-width="1.0" />
<line x1="202.62" y1="368.90" x2="202.62" y2="372.50" stroke="#2B8A80" stroke-width="1.3" />
<rect x="202.14" y="369.24" width="0.90" height="0.90" fill="#2B8A80" stroke="none" stroke-width="0" opacity="0.75"/>
<rect x="205.95" y="372.04" width="0.90" height="0.90" fill="#2B8A80" stroke="none" stroke-width="0" opacity="0.75"/>
<rect x="201.71" y="368.95" width="0.90" height="0.90" fill="#2B8A80" stroke="none" stroke-width="0" opacity="0.75"/>
<rect x="199.31" y="368.78" width="0.90" height="0.90" fill="#2B8A80" stroke="none" stroke-width="0" opacity="0.75"/>
<rect x="200.70" y="368.78" width="0.90" height="0.90" fill="#2B8A80" stroke="none" stroke-width="0" opacity="0.75"/>
<rect x="199.75" y="369.38" width="0.90" height="0.90" fill="#2B8A80" stroke="none" stroke-width="0" opacity="0.75"/>
<rect x="202.82" y="371.64" width="0.90" height="0.90" fill="#2B8A80" stroke="none" stroke-width="0" opacity="0.75"/>
<rect x="204.49" y="369.94" width="0.90" height="0.90" fill="#2B8A80" stroke="none" stroke-width="0" opacity="0.75"/>
<rect x="201.37" y="370.34" width="0.90" height="0.90" fill="#2B8A80" stroke="none" stroke-width="0" opacity="0.75"/>
<rect x="201.03" y="369.67" width="0.90" height="0.90" fill="#2B8A80" stroke="none" stroke-width="0" opacity="0.75"/>
<rect x="198.10" y="369.45" width="0.90" height="0.90" fill="#2B8A80" stroke="none" stroke-width="0" opacity="0.75"/>
<rect x="206.52" y="368.90" width="0.90" height="0.90" fill="#2B8A80" stroke="none" stroke-width="0" opacity="0.75"/>
<rect x="200.20" y="375.10" width="1.00" height="1.00" fill="#2B8A80" stroke="none" stroke-width="0" opacity="0.8"/>
<rect x="196.81" y="365.40" width="11.62" height="3.50" fill="#2B8A80" stroke="none" stroke-width="1.0" />
<line x1="217.51" y1="383.30" x2="217.51" y2="392.40" stroke="#888888" stroke-width="1.3" />
<line x1="217.51" y1="371.60" x2="217.51" y2="376.10" stroke="#888888" stroke-width="1.3" />
<rect x="217.10" y="373.92" width="0.90" height="0.90" fill="#888888" stroke="none" stroke-width="0" opacity="0.75"/>
<rect x="220.44" y="372.10" width="0.90" height="0.90" fill="#888888" stroke="none" stroke-width="0" opacity="0.75"/>
<rect x="214.94" y="372.24" width="0.90" height="0.90" fill="#888888" stroke="none" stroke-width="0" opacity="0.75"/>
<rect x="216.13" y="373.11" width="0.90" height="0.90" fill="#888888" stroke="none" stroke-width="0" opacity="0.75"/>
<rect x="221.28" y="374.88" width="0.90" height="0.90" fill="#888888" stroke="none" stroke-width="0" opacity="0.75"/>
<rect x="220.53" y="371.25" width="0.90" height="0.90" fill="#888888" stroke="none" stroke-width="0" opacity="0.75"/>
<rect x="212.72" y="374.27" width="0.90" height="0.90" fill="#888888" stroke="none" stroke-width="0" opacity="0.75"/>
<rect x="220.74" y="373.23" width="0.90" height="0.90" fill="#888888" stroke="none" stroke-width="0" opacity="0.75"/>
<rect x="217.87" y="371.15" width="0.90" height="0.90" fill="#888888" stroke="none" stroke-width="0" opacity="0.75"/>
<rect x="216.06" y="391.84" width="0.90" height="0.90" fill="#888888" stroke="none" stroke-width="0" opacity="0.75"/>
<rect x="220.09" y="391.15" width="0.90" height="0.90" fill="#888888" stroke="none" stroke-width="0" opacity="0.75"/>
<rect x="221.45" y="385.26" width="0.90" height="0.90" fill="#888888" stroke="none" stroke-width="0" opacity="0.75"/>
<rect x="213.43" y="384.35" width="0.90" height="0.90" fill="#888888" stroke="none" stroke-width="0" opacity="0.75"/>
<rect x="217.27" y="389.47" width="0.90" height="0.90" fill="#888888" stroke="none" stroke-width="0" opacity="0.75"/>
<rect x="221.17" y="389.85" width="0.90" height="0.90" fill="#888888" stroke="none" stroke-width="0" opacity="0.75"/>
<rect x="218.43" y="390.27" width="0.90" height="0.90" fill="#888888" stroke="none" stroke-width="0" opacity="0.75"/>
<rect x="216.67" y="388.20" width="0.90" height="0.90" fill="#888888" stroke="none" stroke-width="0" opacity="0.75"/>
<rect x="212.79" y="390.44" width="0.90" height="0.90" fill="#888888" stroke="none" stroke-width="0" opacity="0.75"/>
<rect x="214.58" y="391.77" width="0.90" height="0.90" fill="#888888" stroke="none" stroke-width="0" opacity="0.75"/>
<rect x="218.42" y="385.80" width="0.90" height="0.90" fill="#888888" stroke="none" stroke-width="0" opacity="0.75"/>
<rect x="213.61" y="385.29" width="0.90" height="0.90" fill="#888888" stroke="none" stroke-width="0" opacity="0.75"/>
<rect x="216.50" y="397.80" width="1.00" height="1.00" fill="#888888" stroke="none" stroke-width="0" opacity="0.8"/>
<rect x="215.50" y="395.50" width="1.00" height="1.00" fill="#888888" stroke="none" stroke-width="0" opacity="0.8"/>
<rect x="211.71" y="376.10" width="11.62" height="7.20" fill="#888888" stroke="none" stroke-width="1.0" />
<rect x="212.91" y="379.90" width="9.22" height="2.30" fill="#ffffff" stroke="none" stroke-width="0" opacity="1"/>
<path d="M163.90,297.00 L163.90,520.30 L226.45,520.30 L226.45,297.00" fill="none" stroke="#1a1a1a" stroke-width="1.1" stroke-linejoin="round" stroke-linecap="butt" stroke-linejoin="miter"/>
<line x1="163.90" y1="297.00" x2="226.45" y2="297.00" stroke="#333333" stroke-width="1.1" />
<text x="359.80" y="275.70" font-size="10.1" text-anchor="middle" fill="#000" ><tspan font-style="italic">Alu</tspan> precision, recall, AUPR</text>
<line x1="258.40" y1="484.80" x2="260.50" y2="484.80" stroke="#000" stroke-width="1.3" />
<text x="0" y="0" font-size="7.5" text-anchor="end" fill="#000" transform="translate(256.90,487.60) scale(1,1.1)">0.50</text>
<line x1="258.40" y1="425.30" x2="260.50" y2="425.30" stroke="#000" stroke-width="1.3" />
<text x="0" y="0" font-size="7.5" text-anchor="end" fill="#000" transform="translate(256.90,428.10) scale(1,1.1)">0.75</text>
<line x1="258.40" y1="365.80" x2="260.50" y2="365.80" stroke="#000" stroke-width="1.3" />
<text x="0" y="0" font-size="7.5" text-anchor="end" fill="#000" transform="translate(256.90,368.60) scale(1,1.1)">1.00</text>
<rect x="260.50" y="282.55" width="62.55" height="14.45" fill="#F0F1F3" stroke="#333333" stroke-width="1.1" />
<text x="291.38" y="292.60" font-size="9.1" text-anchor="middle" fill="#1a1a1a" >Precision</text>
<line x1="269.44" y1="520.30" x2="269.44" y2="522.30" stroke="#000" stroke-width="1.3" />
<text x="0" y="0" font-size="8.35" text-anchor="end" fill="#1a1a1a" transform="translate(273.84,528.50) rotate(-45)">ResNet-18</text>
<line x1="284.33" y1="520.30" x2="284.33" y2="522.30" stroke="#000" stroke-width="1.3" />
<text x="0" y="0" font-size="8.35" text-anchor="end" fill="#1a1a1a" transform="translate(288.73,528.50) rotate(-45)">GoogLeNet</text>
<line x1="299.22" y1="520.30" x2="299.22" y2="522.30" stroke="#000" stroke-width="1.3" />
<text x="0" y="0" font-size="8.35" text-anchor="end" fill="#1a1a1a" transform="translate(303.62,528.50) rotate(-45)">ViT</text>
<line x1="314.11" y1="520.30" x2="314.11" y2="522.30" stroke="#000" stroke-width="1.3" />
<text x="0" y="0" font-size="8.35" text-anchor="end" fill="#1a1a1a" transform="translate(318.51,528.50) rotate(-45)">RetroSom</text>
<path d="M269.44,314.70 L269.44,310.50 L314.11,310.50 L314.11,314.70" fill="none" stroke="#262626" stroke-width="1.05" stroke-linejoin="round" stroke-linecap="butt" stroke-linejoin="miter"/>
<text x="291.97" y="308.50" font-size="8.55" text-anchor="middle" fill="#222222" >1.4e-14</text>
<path d="M269.44,330.70 L269.44,326.50 L299.22,326.50 L299.22,330.70" fill="none" stroke="#262626" stroke-width="1.05" stroke-linejoin="round" stroke-linecap="butt" stroke-linejoin="miter"/>
<text x="284.53" y="324.50" font-size="8.55" text-anchor="middle" fill="#222222" >3.6e-9</text>
<path d="M284.33,346.70 L284.33,342.50 L299.22,342.50 L299.22,346.70" fill="none" stroke="#262626" stroke-width="1.05" stroke-linejoin="round" stroke-linecap="butt" stroke-linejoin="miter"/>
<text x="291.97" y="340.50" font-size="8.55" text-anchor="middle" fill="#222222" >2.3e-7</text>
<path d="M269.44,362.70 L269.44,358.50 L284.33,358.50 L284.33,362.70" fill="none" stroke="#262626" stroke-width="1.05" stroke-linejoin="round" stroke-linecap="butt" stroke-linejoin="miter"/>
<text x="277.08" y="356.50" font-size="8.55" text-anchor="middle" fill="#222222" >0.014</text>
<line x1="269.44" y1="367.80" x2="269.44" y2="371.10" stroke="#975457" stroke-width="1.3" />
<rect x="270.25" y="369.66" width="0.90" height="0.90" fill="#975457" stroke="none" stroke-width="0" opacity="0.75"/>
<rect x="265.38" y="367.58" width="0.90" height="0.90" fill="#975457" stroke="none" stroke-width="0" opacity="0.75"/>
<rect x="269.21" y="369.27" width="0.90" height="0.90" fill="#975457" stroke="none" stroke-width="0" opacity="0.75"/>
<rect x="267.95" y="368.09" width="0.90" height="0.90" fill="#975457" stroke="none" stroke-width="0" opacity="0.75"/>
<rect x="269.92" y="367.38" width="0.90" height="0.90" fill="#975457" stroke="none" stroke-width="0" opacity="0.75"/>
<rect x="267.14" y="368.87" width="0.90" height="0.90" fill="#975457" stroke="none" stroke-width="0" opacity="0.75"/>
<rect x="273.25" y="369.48" width="0.90" height="0.90" fill="#975457" stroke="none" stroke-width="0" opacity="0.75"/>
<rect x="272.55" y="368.92" width="0.90" height="0.90" fill="#975457" stroke="none" stroke-width="0" opacity="0.75"/>
<rect x="266.52" y="368.17" width="0.90" height="0.90" fill="#975457" stroke="none" stroke-width="0" opacity="0.75"/>
<rect x="273.27" y="369.68" width="0.90" height="0.90" fill="#975457" stroke="none" stroke-width="0" opacity="0.75"/>
<rect x="267.20" y="367.42" width="0.90" height="0.90" fill="#975457" stroke="none" stroke-width="0" opacity="0.75"/>
<rect x="268.97" y="369.58" width="0.90" height="0.90" fill="#975457" stroke="none" stroke-width="0" opacity="0.75"/>
<rect x="263.63" y="365.20" width="11.62" height="2.60" fill="#975457" stroke="none" stroke-width="1.0" />
<line x1="284.33" y1="368.10" x2="284.33" y2="370.00" stroke="#D9992B" stroke-width="1.3" />
<rect x="283.14" y="368.27" width="0.90" height="0.90" fill="#D9992B" stroke="none" stroke-width="0" opacity="0.75"/>
<rect x="285.43" y="369.87" width="0.90" height="0.90" fill="#D9992B" stroke="none" stroke-width="0" opacity="0.75"/>
<rect x="281.34" y="367.73" width="0.90" height="0.90" fill="#D9992B" stroke="none" stroke-width="0" opacity="0.75"/>
<rect x="282.37" y="368.66" width="0.90" height="0.90" fill="#D9992B" stroke="none" stroke-width="0" opacity="0.75"/>
<rect x="285.58" y="368.13" width="0.90" height="0.90" fill="#D9992B" stroke="none" stroke-width="0" opacity="0.75"/>
<rect x="286.64" y="369.42" width="0.90" height="0.90" fill="#D9992B" stroke="none" stroke-width="0" opacity="0.75"/>
<rect x="283.92" y="368.14" width="0.90" height="0.90" fill="#D9992B" stroke="none" stroke-width="0" opacity="0.75"/>
<rect x="288.25" y="368.40" width="0.90" height="0.90" fill="#D9992B" stroke="none" stroke-width="0" opacity="0.75"/>
<rect x="286.85" y="368.20" width="0.90" height="0.90" fill="#D9992B" stroke="none" stroke-width="0" opacity="0.75"/>
<rect x="281.29" y="369.48" width="0.90" height="0.90" fill="#D9992B" stroke="none" stroke-width="0" opacity="0.75"/>
<rect x="281.97" y="369.93" width="0.90" height="0.90" fill="#D9992B" stroke="none" stroke-width="0" opacity="0.75"/>
<rect x="283.84" y="368.10" width="0.90" height="0.90" fill="#D9992B" stroke="none" stroke-width="0" opacity="0.75"/>
<rect x="278.52" y="365.40" width="11.62" height="2.70" fill="#D9992B" stroke="none" stroke-width="1.0" />
<line x1="299.22" y1="368.90" x2="299.22" y2="372.00" stroke="#2B8A80" stroke-width="1.3" />
<rect x="296.20" y="369.95" width="0.90" height="0.90" fill="#2B8A80" stroke="none" stroke-width="0" opacity="0.75"/>
<rect x="300.31" y="371.87" width="0.90" height="0.90" fill="#2B8A80" stroke="none" stroke-width="0" opacity="0.75"/>
<rect x="295.49" y="369.87" width="0.90" height="0.90" fill="#2B8A80" stroke="none" stroke-width="0" opacity="0.75"/>
<rect x="296.10" y="371.96" width="0.90" height="0.90" fill="#2B8A80" stroke="none" stroke-width="0" opacity="0.75"/>
<rect x="295.44" y="368.64" width="0.90" height="0.90" fill="#2B8A80" stroke="none" stroke-width="0" opacity="0.75"/>
<rect x="294.68" y="369.87" width="0.90" height="0.90" fill="#2B8A80" stroke="none" stroke-width="0" opacity="0.75"/>
<rect x="302.47" y="371.63" width="0.90" height="0.90" fill="#2B8A80" stroke="none" stroke-width="0" opacity="0.75"/>
<rect x="300.93" y="372.04" width="0.90" height="0.90" fill="#2B8A80" stroke="none" stroke-width="0" opacity="0.75"/>
<rect x="302.78" y="369.64" width="0.90" height="0.90" fill="#2B8A80" stroke="none" stroke-width="0" opacity="0.75"/>
<rect x="295.85" y="371.82" width="0.90" height="0.90" fill="#2B8A80" stroke="none" stroke-width="0" opacity="0.75"/>
<rect x="301.06" y="368.56" width="0.90" height="0.90" fill="#2B8A80" stroke="none" stroke-width="0" opacity="0.75"/>
<rect x="300.30" y="369.81" width="0.90" height="0.90" fill="#2B8A80" stroke="none" stroke-width="0" opacity="0.75"/>
<rect x="293.41" y="366.10" width="11.62" height="2.80" fill="#2B8A80" stroke="none" stroke-width="1.0" />
<rect x="308.31" y="364.40" width="11.62" height="2.40" fill="#888888" stroke="none" stroke-width="1.0" />
<path d="M260.50,297.00 L260.50,520.30 L323.05,520.30 L323.05,297.00" fill="none" stroke="#1a1a1a" stroke-width="1.1" stroke-linejoin="round" stroke-linecap="butt" stroke-linejoin="miter"/>
<line x1="260.50" y1="297.00" x2="323.05" y2="297.00" stroke="#333333" stroke-width="1.1" />
<rect x="327.00" y="282.55" width="62.55" height="14.45" fill="#F0F1F3" stroke="#333333" stroke-width="1.1" />
<text x="355.97" y="292.60" font-size="9.1" text-anchor="middle" fill="#1a1a1a" >Recall</text>
<line x1="335.94" y1="520.30" x2="335.94" y2="522.30" stroke="#000" stroke-width="1.3" />
<text x="0" y="0" font-size="8.35" text-anchor="end" fill="#1a1a1a" transform="translate(340.34,528.50) rotate(-45)">ResNet-18</text>
<line x1="350.83" y1="520.30" x2="350.83" y2="522.30" stroke="#000" stroke-width="1.3" />
<text x="0" y="0" font-size="8.35" text-anchor="end" fill="#1a1a1a" transform="translate(355.23,528.50) rotate(-45)">GoogLeNet</text>
<line x1="365.72" y1="520.30" x2="365.72" y2="522.30" stroke="#000" stroke-width="1.3" />
<text x="0" y="0" font-size="8.35" text-anchor="end" fill="#1a1a1a" transform="translate(370.12,528.50) rotate(-45)">ViT</text>
<line x1="380.61" y1="520.30" x2="380.61" y2="522.30" stroke="#000" stroke-width="1.3" />
<text x="0" y="0" font-size="8.35" text-anchor="end" fill="#1a1a1a" transform="translate(385.01,528.50) rotate(-45)">RetroSom</text>
<path d="M335.94,314.70 L335.94,310.50 L380.61,310.50 L380.61,314.70" fill="none" stroke="#262626" stroke-width="1.05" stroke-linejoin="round" stroke-linecap="butt" stroke-linejoin="miter"/>
<text x="358.47" y="308.50" font-size="8.55" text-anchor="middle" fill="#222222" >1.4e-14</text>
<path d="M335.94,330.70 L335.94,326.50 L365.72,326.50 L365.72,330.70" fill="none" stroke="#262626" stroke-width="1.05" stroke-linejoin="round" stroke-linecap="butt" stroke-linejoin="miter"/>
<text x="351.03" y="324.50" font-size="8.55" text-anchor="middle" fill="#222222" >1.3e-6</text>
<path d="M350.83,346.70 L350.83,342.50 L365.72,342.50 L365.72,346.70" fill="none" stroke="#262626" stroke-width="1.05" stroke-linejoin="round" stroke-linecap="butt" stroke-linejoin="miter"/>
<text x="358.47" y="340.50" font-size="8.55" text-anchor="middle" fill="#222222" >0.0089</text>
<path d="M335.94,362.70 L335.94,358.50 L350.83,358.50 L350.83,362.70" fill="none" stroke="#262626" stroke-width="1.05" stroke-linejoin="round" stroke-linecap="butt" stroke-linejoin="miter"/>
<text x="343.58" y="356.50" font-size="8.55" text-anchor="middle" fill="#222222" >4.4e-5</text>
<rect x="330.13" y="364.70" width="11.62" height="2.40" fill="#975457" stroke="none" stroke-width="1.0" />
<rect x="345.02" y="364.70" width="11.62" height="2.40" fill="#D9992B" stroke="none" stroke-width="1.0" />
<rect x="359.91" y="364.70" width="11.62" height="2.40" fill="#2B8A80" stroke="none" stroke-width="1.0" />
<line x1="380.61" y1="408.50" x2="380.61" y2="412.60" stroke="#888888" stroke-width="1.3" />
<line x1="380.61" y1="395.00" x2="380.61" y2="400.80" stroke="#888888" stroke-width="1.3" />
<rect x="378.99" y="396.47" width="0.90" height="0.90" fill="#888888" stroke="none" stroke-width="0" opacity="0.75"/>
<rect x="377.09" y="394.57" width="0.90" height="0.90" fill="#888888" stroke="none" stroke-width="0" opacity="0.75"/>
<rect x="378.12" y="396.59" width="0.90" height="0.90" fill="#888888" stroke="none" stroke-width="0" opacity="0.75"/>
<rect x="384.40" y="395.27" width="0.90" height="0.90" fill="#888888" stroke="none" stroke-width="0" opacity="0.75"/>
<rect x="384.48" y="395.75" width="0.90" height="0.90" fill="#888888" stroke="none" stroke-width="0" opacity="0.75"/>
<rect x="378.83" y="399.32" width="0.90" height="0.90" fill="#888888" stroke="none" stroke-width="0" opacity="0.75"/>
<rect x="383.16" y="409.82" width="0.90" height="0.90" fill="#888888" stroke="none" stroke-width="0" opacity="0.75"/>
<rect x="375.98" y="409.99" width="0.90" height="0.90" fill="#888888" stroke="none" stroke-width="0" opacity="0.75"/>
<rect x="378.98" y="411.82" width="0.90" height="0.90" fill="#888888" stroke="none" stroke-width="0" opacity="0.75"/>
<rect x="377.31" y="409.54" width="0.90" height="0.90" fill="#888888" stroke="none" stroke-width="0" opacity="0.75"/>
<rect x="383.85" y="408.17" width="0.90" height="0.90" fill="#888888" stroke="none" stroke-width="0" opacity="0.75"/>
<rect x="379.34" y="411.38" width="0.90" height="0.90" fill="#888888" stroke="none" stroke-width="0" opacity="0.75"/>
<rect x="374.81" y="400.80" width="11.62" height="7.70" fill="#888888" stroke="none" stroke-width="1.0" />
<rect x="376.01" y="402.30" width="9.22" height="1.50" fill="#ffffff" stroke="none" stroke-width="0" opacity="1"/>
<rect x="376.01" y="405.30" width="9.22" height="1.70" fill="#ffffff" stroke="none" stroke-width="0" opacity="1"/>
<path d="M327.00,297.00 L327.00,520.30 L389.55,520.30 L389.55,297.00" fill="none" stroke="#1a1a1a" stroke-width="1.1" stroke-linejoin="round" stroke-linecap="butt" stroke-linejoin="miter"/>
<line x1="327.00" y1="297.00" x2="389.55" y2="297.00" stroke="#333333" stroke-width="1.1" />
<rect x="393.50" y="282.55" width="62.55" height="14.45" fill="#F0F1F3" stroke="#333333" stroke-width="1.1" />
<text x="422.47" y="292.60" font-size="9.1" text-anchor="middle" fill="#1a1a1a" >AUPR</text>
<line x1="402.44" y1="520.30" x2="402.44" y2="522.30" stroke="#000" stroke-width="1.3" />
<text x="0" y="0" font-size="8.35" text-anchor="end" fill="#1a1a1a" transform="translate(406.84,528.50) rotate(-45)">ResNet-18</text>
<line x1="417.33" y1="520.30" x2="417.33" y2="522.30" stroke="#000" stroke-width="1.3" />
<text x="0" y="0" font-size="8.35" text-anchor="end" fill="#1a1a1a" transform="translate(421.73,528.50) rotate(-45)">GoogLeNet</text>
<line x1="432.22" y1="520.30" x2="432.22" y2="522.30" stroke="#000" stroke-width="1.3" />
<text x="0" y="0" font-size="8.35" text-anchor="end" fill="#1a1a1a" transform="translate(436.62,528.50) rotate(-45)">ViT</text>
<line x1="447.11" y1="520.30" x2="447.11" y2="522.30" stroke="#000" stroke-width="1.3" />
<text x="0" y="0" font-size="8.35" text-anchor="end" fill="#1a1a1a" transform="translate(451.51,528.50) rotate(-45)">RetroSom</text>
<path d="M402.44,314.70 L402.44,310.50 L447.11,310.50 L447.11,314.70" fill="none" stroke="#262626" stroke-width="1.05" stroke-linejoin="round" stroke-linecap="butt" stroke-linejoin="miter"/>
<text x="424.97" y="308.50" font-size="8.55" text-anchor="middle" fill="#222222" >1.4e-14</text>
<path d="M402.44,330.70 L402.44,326.50 L432.22,326.50 L432.22,330.70" fill="none" stroke="#262626" stroke-width="1.05" stroke-linejoin="round" stroke-linecap="butt" stroke-linejoin="miter"/>
<text x="417.53" y="324.50" font-size="8.55" text-anchor="middle" fill="#222222" >0.093</text>
<path d="M417.33,346.70 L417.33,342.50 L432.22,342.50 L432.22,346.70" fill="none" stroke="#262626" stroke-width="1.05" stroke-linejoin="round" stroke-linecap="butt" stroke-linejoin="miter"/>
<text x="424.97" y="340.50" font-size="8.55" text-anchor="middle" fill="#222222" >0.077</text>
<path d="M402.44,362.70 L402.44,358.50 L417.33,358.50 L417.33,362.70" fill="none" stroke="#262626" stroke-width="1.05" stroke-linejoin="round" stroke-linecap="butt" stroke-linejoin="miter"/>
<text x="410.08" y="356.50" font-size="8.55" text-anchor="middle" fill="#222222" >0.53</text>
<rect x="396.63" y="364.30" width="11.62" height="2.40" fill="#975457" stroke="none" stroke-width="1.0" />
<rect x="411.52" y="364.30" width="11.62" height="2.40" fill="#D9992B" stroke="none" stroke-width="1.0" />
<rect x="426.41" y="364.30" width="11.62" height="2.40" fill="#2B8A80" stroke="none" stroke-width="1.0" />
<rect x="441.31" y="366.60" width="11.62" height="2.60" fill="#888888" stroke="none" stroke-width="1.0" />
<path d="M393.50,297.00 L393.50,520.30 L456.05,520.30 L456.05,297.00" fill="none" stroke="#1a1a1a" stroke-width="1.1" stroke-linejoin="round" stroke-linecap="butt" stroke-linejoin="miter"/>
<line x1="393.50" y1="297.00" x2="456.05" y2="297.00" stroke="#333333" stroke-width="1.1" />
<text x="584.05" y="275.70" font-size="10.1" text-anchor="middle" fill="#000" >SVA precision, recall, AUPR</text>
<line x1="487.40" y1="484.80" x2="489.50" y2="484.80" stroke="#000" stroke-width="1.3" />
<text x="0" y="0" font-size="7.5" text-anchor="end" fill="#000" transform="translate(485.90,487.60) scale(1,1.1)">0.50</text>
<line x1="487.40" y1="425.30" x2="489.50" y2="425.30" stroke="#000" stroke-width="1.3" />
<text x="0" y="0" font-size="7.5" text-anchor="end" fill="#000" transform="translate(485.90,428.10) scale(1,1.1)">0.75</text>
<line x1="487.40" y1="365.80" x2="489.50" y2="365.80" stroke="#000" stroke-width="1.3" />
<text x="0" y="0" font-size="7.5" text-anchor="end" fill="#000" transform="translate(485.90,368.60) scale(1,1.1)">1.00</text>
<rect x="489.50" y="282.55" width="62.50" height="14.45" fill="#F0F1F3" stroke="#333333" stroke-width="1.1" />
<text x="520.35" y="292.60" font-size="9.1" text-anchor="middle" fill="#1a1a1a" >Precision</text>
<line x1="501.22" y1="520.30" x2="501.22" y2="522.30" stroke="#000" stroke-width="1.3" />
<text x="0" y="0" font-size="8.35" text-anchor="end" fill="#1a1a1a" transform="translate(505.62,528.50) rotate(-45)">ResNet-18</text>
<line x1="520.75" y1="520.30" x2="520.75" y2="522.30" stroke="#000" stroke-width="1.3" />
<text x="0" y="0" font-size="8.35" text-anchor="end" fill="#1a1a1a" transform="translate(525.15,528.50) rotate(-45)">GoogLeNet</text>
<line x1="540.28" y1="520.30" x2="540.28" y2="522.30" stroke="#000" stroke-width="1.3" />
<text x="0" y="0" font-size="8.35" text-anchor="end" fill="#1a1a1a" transform="translate(544.68,528.50) rotate(-45)">ViT</text>
<path d="M501.22,331.20 L501.22,327.00 L540.28,327.00 L540.28,331.20" fill="none" stroke="#262626" stroke-width="1.05" stroke-linejoin="round" stroke-linecap="butt" stroke-linejoin="miter"/>
<text x="520.95" y="325.00" font-size="8.55" text-anchor="middle" fill="#222222" >0.13</text>
<path d="M520.75,346.60 L520.75,342.40 L540.28,342.40 L540.28,346.60" fill="none" stroke="#262626" stroke-width="1.05" stroke-linejoin="round" stroke-linecap="butt" stroke-linejoin="miter"/>
<text x="530.72" y="340.40" font-size="8.55" text-anchor="middle" fill="#222222" >0.010</text>
<path d="M501.22,360.60 L501.22,356.40 L520.75,356.40 L520.75,360.60" fill="none" stroke="#262626" stroke-width="1.05" stroke-linejoin="round" stroke-linecap="butt" stroke-linejoin="miter"/>
<text x="511.18" y="354.40" font-size="8.55" text-anchor="middle" fill="#222222" >0.043</text>
<line x1="501.22" y1="372.70" x2="501.22" y2="378.40" stroke="#975457" stroke-width="1.3" />
<rect x="504.02" y="372.49" width="0.90" height="0.90" fill="#975457" stroke="none" stroke-width="0" opacity="0.75"/>
<rect x="495.10" y="372.61" width="0.90" height="0.90" fill="#975457" stroke="none" stroke-width="0" opacity="0.75"/>
<rect x="505.89" y="373.74" width="0.90" height="0.90" fill="#975457" stroke="none" stroke-width="0" opacity="0.75"/>
<rect x="503.78" y="377.46" width="0.90" height="0.90" fill="#975457" stroke="none" stroke-width="0" opacity="0.75"/>
<rect x="498.81" y="373.83" width="0.90" height="0.90" fill="#975457" stroke="none" stroke-width="0" opacity="0.75"/>
<rect x="506.35" y="375.83" width="0.90" height="0.90" fill="#975457" stroke="none" stroke-width="0" opacity="0.75"/>
<rect x="497.87" y="376.41" width="0.90" height="0.90" fill="#975457" stroke="none" stroke-width="0" opacity="0.75"/>
<rect x="498.53" y="373.85" width="0.90" height="0.90" fill="#975457" stroke="none" stroke-width="0" opacity="0.75"/>
<rect x="494.72" y="376.63" width="0.90" height="0.90" fill="#975457" stroke="none" stroke-width="0" opacity="0.75"/>
<rect x="505.84" y="375.93" width="0.90" height="0.90" fill="#975457" stroke="none" stroke-width="0" opacity="0.75"/>
<rect x="506.17" y="372.39" width="0.90" height="0.90" fill="#975457" stroke="none" stroke-width="0" opacity="0.75"/>
<rect x="497.53" y="375.01" width="0.90" height="0.90" fill="#975457" stroke="none" stroke-width="0" opacity="0.75"/>
<rect x="506.34" y="377.78" width="0.90" height="0.90" fill="#975457" stroke="none" stroke-width="0" opacity="0.75"/>
<rect x="499.39" y="373.71" width="0.90" height="0.90" fill="#975457" stroke="none" stroke-width="0" opacity="0.75"/>
<rect x="499.91" y="375.11" width="0.90" height="0.90" fill="#975457" stroke="none" stroke-width="0" opacity="0.75"/>
<rect x="505.99" y="373.31" width="0.90" height="0.90" fill="#975457" stroke="none" stroke-width="0" opacity="0.75"/>
<rect x="504.46" y="376.53" width="0.90" height="0.90" fill="#975457" stroke="none" stroke-width="0" opacity="0.75"/>
<rect x="504.70" y="376.73" width="0.90" height="0.90" fill="#975457" stroke="none" stroke-width="0" opacity="0.75"/>
<rect x="502.08" y="374.15" width="0.90" height="0.90" fill="#975457" stroke="none" stroke-width="0" opacity="0.75"/>
<rect x="493.60" y="365.10" width="15.23" height="7.60" fill="#975457" stroke="none" stroke-width="1.0" />
<rect x="494.80" y="366.30" width="12.83" height="1.00" fill="#ffffff" stroke="none" stroke-width="0" opacity="0.45"/>
<rect x="494.80" y="369.20" width="12.83" height="1.90" fill="#ffffff" stroke="none" stroke-width="0" opacity="1"/>
<line x1="520.75" y1="370.70" x2="520.75" y2="376.00" stroke="#D9992B" stroke-width="1.3" />
<rect x="518.10" y="372.53" width="0.90" height="0.90" fill="#D9992B" stroke="none" stroke-width="0" opacity="0.75"/>
<rect x="523.74" y="370.75" width="0.90" height="0.90" fill="#D9992B" stroke="none" stroke-width="0" opacity="0.75"/>
<rect x="516.61" y="374.99" width="0.90" height="0.90" fill="#D9992B" stroke="none" stroke-width="0" opacity="0.75"/>
<rect x="517.22" y="370.66" width="0.90" height="0.90" fill="#D9992B" stroke="none" stroke-width="0" opacity="0.75"/>
<rect x="514.62" y="373.73" width="0.90" height="0.90" fill="#D9992B" stroke="none" stroke-width="0" opacity="0.75"/>
<rect x="518.18" y="376.43" width="0.90" height="0.90" fill="#D9992B" stroke="none" stroke-width="0" opacity="0.75"/>
<rect x="524.97" y="376.47" width="0.90" height="0.90" fill="#D9992B" stroke="none" stroke-width="0" opacity="0.75"/>
<rect x="517.43" y="370.78" width="0.90" height="0.90" fill="#D9992B" stroke="none" stroke-width="0" opacity="0.75"/>
<rect x="515.38" y="373.39" width="0.90" height="0.90" fill="#D9992B" stroke="none" stroke-width="0" opacity="0.75"/>
<rect x="522.86" y="373.07" width="0.90" height="0.90" fill="#D9992B" stroke="none" stroke-width="0" opacity="0.75"/>
<rect x="517.06" y="372.88" width="0.90" height="0.90" fill="#D9992B" stroke="none" stroke-width="0" opacity="0.75"/>
<rect x="521.77" y="374.50" width="0.90" height="0.90" fill="#D9992B" stroke="none" stroke-width="0" opacity="0.75"/>
<rect x="523.32" y="375.59" width="0.90" height="0.90" fill="#D9992B" stroke="none" stroke-width="0" opacity="0.75"/>
<rect x="522.30" y="371.01" width="0.90" height="0.90" fill="#D9992B" stroke="none" stroke-width="0" opacity="0.75"/>
<rect x="524.45" y="372.10" width="0.90" height="0.90" fill="#D9992B" stroke="none" stroke-width="0" opacity="0.75"/>
<rect x="521.12" y="372.60" width="0.90" height="0.90" fill="#D9992B" stroke="none" stroke-width="0" opacity="0.75"/>
<rect x="523.20" y="371.50" width="0.90" height="0.90" fill="#D9992B" stroke="none" stroke-width="0" opacity="0.75"/>
<rect x="517.22" y="371.80" width="0.90" height="0.90" fill="#D9992B" stroke="none" stroke-width="0" opacity="0.75"/>
<rect x="516.07" y="375.82" width="0.90" height="0.90" fill="#D9992B" stroke="none" stroke-width="0" opacity="0.75"/>
<rect x="521.25" y="372.31" width="0.90" height="0.90" fill="#D9992B" stroke="none" stroke-width="0" opacity="0.75"/>
<rect x="519.03" y="376.50" width="0.90" height="0.90" fill="#D9992B" stroke="none" stroke-width="0" opacity="0.75"/>
<rect x="520.39" y="371.71" width="0.90" height="0.90" fill="#D9992B" stroke="none" stroke-width="0" opacity="0.75"/>
<rect x="513.13" y="364.80" width="15.23" height="5.90" fill="#D9992B" stroke="none" stroke-width="1.0" />
<rect x="514.33" y="368.00" width="12.83" height="0.90" fill="#ffffff" stroke="none" stroke-width="0" opacity="0.45"/>
<line x1="540.28" y1="373.10" x2="540.28" y2="381.50" stroke="#2B8A80" stroke-width="1.3" />
<rect x="543.59" y="377.81" width="0.90" height="0.90" fill="#2B8A80" stroke="none" stroke-width="0" opacity="0.75"/>
<rect x="545.81" y="373.46" width="0.90" height="0.90" fill="#2B8A80" stroke="none" stroke-width="0" opacity="0.75"/>
<rect x="539.52" y="379.12" width="0.90" height="0.90" fill="#2B8A80" stroke="none" stroke-width="0" opacity="0.75"/>
<rect x="543.98" y="379.87" width="0.90" height="0.90" fill="#2B8A80" stroke="none" stroke-width="0" opacity="0.75"/>
<rect x="534.23" y="374.97" width="0.90" height="0.90" fill="#2B8A80" stroke="none" stroke-width="0" opacity="0.75"/>
<rect x="535.19" y="374.15" width="0.90" height="0.90" fill="#2B8A80" stroke="none" stroke-width="0" opacity="0.75"/>
<rect x="545.60" y="377.26" width="0.90" height="0.90" fill="#2B8A80" stroke="none" stroke-width="0" opacity="0.75"/>
<rect x="545.07" y="375.59" width="0.90" height="0.90" fill="#2B8A80" stroke="none" stroke-width="0" opacity="0.75"/>
<rect x="544.29" y="376.20" width="0.90" height="0.90" fill="#2B8A80" stroke="none" stroke-width="0" opacity="0.75"/>
<rect x="536.91" y="378.79" width="0.90" height="0.90" fill="#2B8A80" stroke="none" stroke-width="0" opacity="0.75"/>
<rect x="545.26" y="373.49" width="0.90" height="0.90" fill="#2B8A80" stroke="none" stroke-width="0" opacity="0.75"/>
<rect x="541.00" y="377.55" width="0.90" height="0.90" fill="#2B8A80" stroke="none" stroke-width="0" opacity="0.75"/>
<rect x="542.00" y="383.10" width="1.00" height="1.00" fill="#2B8A80" stroke="none" stroke-width="0" opacity="0.8"/>
<rect x="532.66" y="365.10" width="15.23" height="8.00" fill="#2B8A80" stroke="none" stroke-width="1.0" />
<rect x="533.86" y="366.30" width="12.83" height="1.80" fill="#ffffff" stroke="none" stroke-width="0" opacity="1"/>
<rect x="533.86" y="369.90" width="12.83" height="2.00" fill="#ffffff" stroke="none" stroke-width="0" opacity="1"/>
<path d="M489.50,297.00 L489.50,520.30 L552.00,520.30 L552.00,297.00" fill="none" stroke="#1a1a1a" stroke-width="1.1" stroke-linejoin="round" stroke-linecap="butt" stroke-linejoin="miter"/>
<line x1="489.50" y1="297.00" x2="552.00" y2="297.00" stroke="#333333" stroke-width="1.1" />
<rect x="555.55" y="282.55" width="62.50" height="14.45" fill="#F0F1F3" stroke="#333333" stroke-width="1.1" />
<text x="584.50" y="292.60" font-size="9.1" text-anchor="middle" fill="#1a1a1a" >Recall</text>
<line x1="567.27" y1="520.30" x2="567.27" y2="522.30" stroke="#000" stroke-width="1.3" />
<text x="0" y="0" font-size="8.35" text-anchor="end" fill="#1a1a1a" transform="translate(571.67,528.50) rotate(-45)">ResNet-18</text>
<line x1="586.80" y1="520.30" x2="586.80" y2="522.30" stroke="#000" stroke-width="1.3" />
<text x="0" y="0" font-size="8.35" text-anchor="end" fill="#1a1a1a" transform="translate(591.20,528.50) rotate(-45)">GoogLeNet</text>
<line x1="606.33" y1="520.30" x2="606.33" y2="522.30" stroke="#000" stroke-width="1.3" />
<text x="0" y="0" font-size="8.35" text-anchor="end" fill="#1a1a1a" transform="translate(610.73,528.50) rotate(-45)">ViT</text>
<path d="M567.27,331.20 L567.27,327.00 L606.33,327.00 L606.33,331.20" fill="none" stroke="#262626" stroke-width="1.05" stroke-linejoin="round" stroke-linecap="butt" stroke-linejoin="miter"/>
<text x="587.00" y="325.00" font-size="8.55" text-anchor="middle" fill="#222222" >0.0026</text>
<path d="M586.80,346.60 L586.80,342.40 L606.33,342.40 L606.33,346.60" fill="none" stroke="#262626" stroke-width="1.05" stroke-linejoin="round" stroke-linecap="butt" stroke-linejoin="miter"/>
<text x="596.77" y="340.40" font-size="8.55" text-anchor="middle" fill="#222222" >0.0062</text>
<path d="M567.27,360.60 L567.27,356.40 L586.80,356.40 L586.80,360.60" fill="none" stroke="#262626" stroke-width="1.05" stroke-linejoin="round" stroke-linecap="butt" stroke-linejoin="miter"/>
<text x="577.23" y="354.40" font-size="8.55" text-anchor="middle" fill="#222222" >0.42</text>
<rect x="563.38" y="371.75" width="0.90" height="0.90" fill="#975457" stroke="none" stroke-width="0" opacity="0.75"/>
<rect x="562.45" y="370.81" width="0.90" height="0.90" fill="#975457" stroke="none" stroke-width="0" opacity="0.75"/>
<rect x="563.83" y="373.07" width="0.90" height="0.90" fill="#975457" stroke="none" stroke-width="0" opacity="0.75"/>
<rect x="568.67" y="370.81" width="0.90" height="0.90" fill="#975457" stroke="none" stroke-width="0" opacity="0.75"/>
<rect x="560.86" y="371.52" width="0.90" height="0.90" fill="#975457" stroke="none" stroke-width="0" opacity="0.75"/>
<rect x="568.99" y="370.71" width="0.90" height="0.90" fill="#975457" stroke="none" stroke-width="0" opacity="0.75"/>
<rect x="564.53" y="370.81" width="0.90" height="0.90" fill="#975457" stroke="none" stroke-width="0" opacity="0.75"/>
<rect x="570.42" y="372.77" width="0.90" height="0.90" fill="#975457" stroke="none" stroke-width="0" opacity="0.75"/>
<rect x="561.50" y="370.23" width="0.90" height="0.90" fill="#975457" stroke="none" stroke-width="0" opacity="0.75"/>
<rect x="565.54" y="372.79" width="0.90" height="0.90" fill="#975457" stroke="none" stroke-width="0" opacity="0.75"/>
<rect x="568.52" y="370.17" width="0.90" height="0.90" fill="#975457" stroke="none" stroke-width="0" opacity="0.75"/>
<rect x="562.72" y="373.61" width="0.90" height="0.90" fill="#975457" stroke="none" stroke-width="0" opacity="0.75"/>
<rect x="565.72" y="371.26" width="0.90" height="0.90" fill="#975457" stroke="none" stroke-width="0" opacity="0.75"/>
<rect x="564.47" y="375.08" width="0.90" height="0.90" fill="#975457" stroke="none" stroke-width="0" opacity="0.75"/>
<rect x="564.53" y="372.88" width="0.90" height="0.90" fill="#975457" stroke="none" stroke-width="0" opacity="0.75"/>
<rect x="565.08" y="372.02" width="0.90" height="0.90" fill="#975457" stroke="none" stroke-width="0" opacity="0.75"/>
<rect x="571.26" y="375.33" width="0.90" height="0.90" fill="#975457" stroke="none" stroke-width="0" opacity="0.75"/>
<rect x="565.16" y="370.77" width="0.90" height="0.90" fill="#975457" stroke="none" stroke-width="0" opacity="0.75"/>
<rect x="569.60" y="370.81" width="0.90" height="0.90" fill="#975457" stroke="none" stroke-width="0" opacity="0.75"/>
<rect x="560.80" y="374.79" width="0.90" height="0.90" fill="#975457" stroke="none" stroke-width="0" opacity="0.75"/>
<rect x="565.89" y="374.33" width="0.90" height="0.90" fill="#975457" stroke="none" stroke-width="0" opacity="0.75"/>
<rect x="565.68" y="374.68" width="0.90" height="0.90" fill="#975457" stroke="none" stroke-width="0" opacity="0.75"/>
<rect x="559.65" y="365.10" width="15.23" height="5.00" fill="#975457" stroke="none" stroke-width="1.0" />
<rect x="585.87" y="371.25" width="0.90" height="0.90" fill="#D9992B" stroke="none" stroke-width="0" opacity="0.75"/>
<rect x="580.44" y="372.69" width="0.90" height="0.90" fill="#D9992B" stroke="none" stroke-width="0" opacity="0.75"/>
<rect x="588.06" y="374.02" width="0.90" height="0.90" fill="#D9992B" stroke="none" stroke-width="0" opacity="0.75"/>
<rect x="581.34" y="372.95" width="0.90" height="0.90" fill="#D9992B" stroke="none" stroke-width="0" opacity="0.75"/>
<rect x="584.78" y="372.52" width="0.90" height="0.90" fill="#D9992B" stroke="none" stroke-width="0" opacity="0.75"/>
<rect x="582.03" y="371.70" width="0.90" height="0.90" fill="#D9992B" stroke="none" stroke-width="0" opacity="0.75"/>
<rect x="586.61" y="374.07" width="0.90" height="0.90" fill="#D9992B" stroke="none" stroke-width="0" opacity="0.75"/>
<rect x="581.58" y="372.46" width="0.90" height="0.90" fill="#D9992B" stroke="none" stroke-width="0" opacity="0.75"/>
<rect x="590.06" y="374.23" width="0.90" height="0.90" fill="#D9992B" stroke="none" stroke-width="0" opacity="0.75"/>
<rect x="582.66" y="371.12" width="0.90" height="0.90" fill="#D9992B" stroke="none" stroke-width="0" opacity="0.75"/>
<rect x="591.75" y="374.26" width="0.90" height="0.90" fill="#D9992B" stroke="none" stroke-width="0" opacity="0.75"/>
<rect x="586.14" y="370.85" width="0.90" height="0.90" fill="#D9992B" stroke="none" stroke-width="0" opacity="0.75"/>
<rect x="591.54" y="372.09" width="0.90" height="0.90" fill="#D9992B" stroke="none" stroke-width="0" opacity="0.75"/>
<rect x="591.28" y="372.95" width="0.90" height="0.90" fill="#D9992B" stroke="none" stroke-width="0" opacity="0.75"/>
<rect x="590.31" y="371.24" width="0.90" height="0.90" fill="#D9992B" stroke="none" stroke-width="0" opacity="0.75"/>
<rect x="589.83" y="371.47" width="0.90" height="0.90" fill="#D9992B" stroke="none" stroke-width="0" opacity="0.75"/>
<rect x="585.19" y="373.78" width="0.90" height="0.90" fill="#D9992B" stroke="none" stroke-width="0" opacity="0.75"/>
<rect x="590.36" y="371.33" width="0.90" height="0.90" fill="#D9992B" stroke="none" stroke-width="0" opacity="0.75"/>
<rect x="582.91" y="372.13" width="0.90" height="0.90" fill="#D9992B" stroke="none" stroke-width="0" opacity="0.75"/>
<rect x="579.18" y="365.10" width="15.23" height="6.00" fill="#D9992B" stroke="none" stroke-width="1.0" />
<rect x="580.38" y="366.10" width="12.83" height="0.90" fill="#ffffff" stroke="none" stroke-width="0" opacity="1"/>
<rect x="606.10" y="369.50" width="0.90" height="0.90" fill="#2B8A80" stroke="none" stroke-width="0" opacity="0.75"/>
<rect x="601.29" y="368.91" width="0.90" height="0.90" fill="#2B8A80" stroke="none" stroke-width="0" opacity="0.75"/>
<rect x="608.62" y="371.71" width="0.90" height="0.90" fill="#2B8A80" stroke="none" stroke-width="0" opacity="0.75"/>
<rect x="600.29" y="370.27" width="0.90" height="0.90" fill="#2B8A80" stroke="none" stroke-width="0" opacity="0.75"/>
<rect x="609.02" y="368.01" width="0.90" height="0.90" fill="#2B8A80" stroke="none" stroke-width="0" opacity="0.75"/>
<rect x="610.00" y="368.36" width="0.90" height="0.90" fill="#2B8A80" stroke="none" stroke-width="0" opacity="0.75"/>
<rect x="607.09" y="370.22" width="0.90" height="0.90" fill="#2B8A80" stroke="none" stroke-width="0" opacity="0.75"/>
<rect x="607.43" y="369.17" width="0.90" height="0.90" fill="#2B8A80" stroke="none" stroke-width="0" opacity="0.75"/>
<rect x="604.91" y="370.36" width="0.90" height="0.90" fill="#2B8A80" stroke="none" stroke-width="0" opacity="0.75"/>
<rect x="604.98" y="370.68" width="0.90" height="0.90" fill="#2B8A80" stroke="none" stroke-width="0" opacity="0.75"/>
<rect x="605.23" y="369.73" width="0.90" height="0.90" fill="#2B8A80" stroke="none" stroke-width="0" opacity="0.75"/>
<rect x="600.07" y="370.51" width="0.90" height="0.90" fill="#2B8A80" stroke="none" stroke-width="0" opacity="0.75"/>
<rect x="605.75" y="368.86" width="0.90" height="0.90" fill="#2B8A80" stroke="none" stroke-width="0" opacity="0.75"/>
<rect x="609.09" y="371.20" width="0.90" height="0.90" fill="#2B8A80" stroke="none" stroke-width="0" opacity="0.75"/>
<rect x="605.37" y="368.62" width="0.90" height="0.90" fill="#2B8A80" stroke="none" stroke-width="0" opacity="0.75"/>
<rect x="605.55" y="368.31" width="0.90" height="0.90" fill="#2B8A80" stroke="none" stroke-width="0" opacity="0.75"/>
<rect x="598.71" y="365.10" width="15.23" height="3.20" fill="#2B8A80" stroke="none" stroke-width="1.0" />
<path d="M555.55,297.00 L555.55,520.30 L618.05,520.30 L618.05,297.00" fill="none" stroke="#1a1a1a" stroke-width="1.1" stroke-linejoin="round" stroke-linecap="butt" stroke-linejoin="miter"/>
<line x1="555.55" y1="297.00" x2="618.05" y2="297.00" stroke="#333333" stroke-width="1.1" />
<rect x="622.00" y="282.55" width="62.50" height="14.45" fill="#F0F1F3" stroke="#333333" stroke-width="1.1" />
<text x="650.95" y="292.60" font-size="9.1" text-anchor="middle" fill="#1a1a1a" >AUPR</text>
<line x1="633.72" y1="520.30" x2="633.72" y2="522.30" stroke="#000" stroke-width="1.3" />
<text x="0" y="0" font-size="8.35" text-anchor="end" fill="#1a1a1a" transform="translate(638.12,528.50) rotate(-45)">ResNet-18</text>
<line x1="653.25" y1="520.30" x2="653.25" y2="522.30" stroke="#000" stroke-width="1.3" />
<text x="0" y="0" font-size="8.35" text-anchor="end" fill="#1a1a1a" transform="translate(657.65,528.50) rotate(-45)">GoogLeNet</text>
<line x1="672.78" y1="520.30" x2="672.78" y2="522.30" stroke="#000" stroke-width="1.3" />
<text x="0" y="0" font-size="8.35" text-anchor="end" fill="#1a1a1a" transform="translate(677.18,528.50) rotate(-45)">ViT</text>
<path d="M633.72,331.20 L633.72,327.00 L672.78,327.00 L672.78,331.20" fill="none" stroke="#262626" stroke-width="1.05" stroke-linejoin="round" stroke-linecap="butt" stroke-linejoin="miter"/>
<text x="653.45" y="325.00" font-size="8.55" text-anchor="middle" fill="#222222" >0.51</text>
<path d="M653.25,346.60 L653.25,342.40 L672.78,342.40 L672.78,346.60" fill="none" stroke="#262626" stroke-width="1.05" stroke-linejoin="round" stroke-linecap="butt" stroke-linejoin="miter"/>
<text x="663.22" y="340.40" font-size="8.55" text-anchor="middle" fill="#222222" >0.51</text>
<path d="M633.72,360.60 L633.72,356.40 L653.25,356.40 L653.25,360.60" fill="none" stroke="#262626" stroke-width="1.05" stroke-linejoin="round" stroke-linecap="butt" stroke-linejoin="miter"/>
<text x="643.68" y="354.40" font-size="8.55" text-anchor="middle" fill="#222222" >0.52</text>
<rect x="628.74" y="367.50" width="0.90" height="0.90" fill="#975457" stroke="none" stroke-width="0" opacity="0.75"/>
<rect x="628.29" y="367.51" width="0.90" height="0.90" fill="#975457" stroke="none" stroke-width="0" opacity="0.75"/>
<rect x="633.39" y="366.91" width="0.90" height="0.90" fill="#975457" stroke="none" stroke-width="0" opacity="0.75"/>
<rect x="634.93" y="366.97" width="0.90" height="0.90" fill="#975457" stroke="none" stroke-width="0" opacity="0.75"/>
<rect x="636.11" y="368.02" width="0.90" height="0.90" fill="#975457" stroke="none" stroke-width="0" opacity="0.75"/>
<rect x="633.41" y="366.93" width="0.90" height="0.90" fill="#975457" stroke="none" stroke-width="0" opacity="0.75"/>
<rect x="626.10" y="364.50" width="15.23" height="2.80" fill="#975457" stroke="none" stroke-width="1.0" />
<rect x="652.85" y="367.42" width="0.90" height="0.90" fill="#D9992B" stroke="none" stroke-width="0" opacity="0.75"/>
<rect x="658.29" y="367.05" width="0.90" height="0.90" fill="#D9992B" stroke="none" stroke-width="0" opacity="0.75"/>
<rect x="657.15" y="368.34" width="0.90" height="0.90" fill="#D9992B" stroke="none" stroke-width="0" opacity="0.75"/>
<rect x="655.63" y="368.07" width="0.90" height="0.90" fill="#D9992B" stroke="none" stroke-width="0" opacity="0.75"/>
<rect x="649.07" y="368.32" width="0.90" height="0.90" fill="#D9992B" stroke="none" stroke-width="0" opacity="0.75"/>
<rect x="652.70" y="368.28" width="0.90" height="0.90" fill="#D9992B" stroke="none" stroke-width="0" opacity="0.75"/>
<rect x="645.63" y="364.50" width="15.23" height="2.80" fill="#D9992B" stroke="none" stroke-width="1.0" />
<rect x="677.40" y="367.21" width="0.90" height="0.90" fill="#2B8A80" stroke="none" stroke-width="0" opacity="0.75"/>
<rect x="675.85" y="368.90" width="0.90" height="0.90" fill="#2B8A80" stroke="none" stroke-width="0" opacity="0.75"/>
<rect x="667.04" y="367.62" width="0.90" height="0.90" fill="#2B8A80" stroke="none" stroke-width="0" opacity="0.75"/>
<rect x="675.45" y="367.20" width="0.90" height="0.90" fill="#2B8A80" stroke="none" stroke-width="0" opacity="0.75"/>
<rect x="677.16" y="367.45" width="0.90" height="0.90" fill="#2B8A80" stroke="none" stroke-width="0" opacity="0.75"/>
<rect x="676.18" y="367.17" width="0.90" height="0.90" fill="#2B8A80" stroke="none" stroke-width="0" opacity="0.75"/>
<rect x="665.16" y="364.50" width="15.23" height="2.80" fill="#2B8A80" stroke="none" stroke-width="1.0" />
<path d="M622.00,297.00 L622.00,520.30 L684.50,520.30 L684.50,297.00" fill="none" stroke="#1a1a1a" stroke-width="1.1" stroke-linejoin="round" stroke-linecap="butt" stroke-linejoin="miter"/>
<line x1="622.00" y1="297.00" x2="684.50" y2="297.00" stroke="#333333" stroke-width="1.1" /></svg>
</body></html>
